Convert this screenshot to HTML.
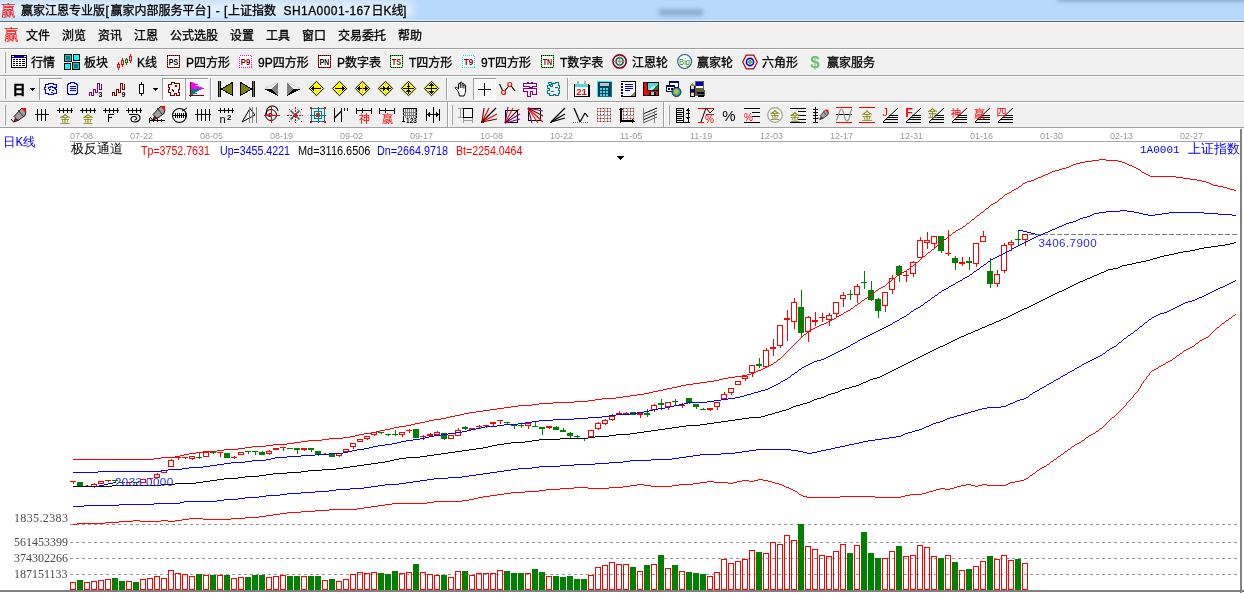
<!DOCTYPE html>
<html lang="zh-CN"><head><meta charset="utf-8"><title>赢家江恩专业版</title>
<style>
html,body{margin:0;padding:0;background:#fff;}
body{width:1244px;height:593px;overflow:hidden;position:relative;font-family:"Liberation Sans","Noto Sans CJK SC",sans-serif;font-size:12px;color:#000;line-height:1;}
.abs{position:absolute;}
.t{position:absolute;white-space:nowrap;line-height:16px;height:16px;}
.ui{font-family:"Liberation Sans","Noto Sans CJK SC",sans-serif;font-size:12px;-webkit-text-stroke:.3px;}
.song{font-family:"Liberation Mono","WenQuanYi Zen Hei",monospace;font-size:13px;}
.song b{font-weight:normal;font-size:11px;}
#title{left:0;top:0;width:1244px;height:20px;background:#b7d9fc;overflow:hidden;}
#bars{left:0;top:22px;width:1244px;height:106px;background:#f0f0f0;}
.hl{position:absolute;left:0;width:1244px;height:1px;}
.grip{position:absolute;width:1px;background:#a0a0a0;box-shadow:-1px 0 0 #fff;}
.sep{position:absolute;width:1px;background:#a0a0a0;box-shadow:1px 0 0 #fff;}
.ic{position:absolute;width:16px;height:16px;overflow:visible;}
.pressed{position:absolute;background:#f8f8f8;box-shadow:inset 1px 1px 0 #a0a0a0, inset -1px -1px 0 #fff;}
.dl{position:absolute;font-family:"Liberation Sans",sans-serif;font-size:9px;color:#9a9a9a;line-height:10px;white-space:nowrap;}
.hd{position:absolute;font-family:"Liberation Sans",sans-serif;font-size:12px;line-height:14px;white-space:nowrap;transform-origin:0 0;transform:scaleX(0.885);}
.vl{position:absolute;font-family:"Liberation Serif",serif;font-size:12px;line-height:12px;color:#4a4a4a;white-space:nowrap;}
</style></head>
<body>
<div class="abs" id="title"><div class="abs" style="left:-14px;top:1px;width:428px;height:17px;background:rgba(255,255,255,.62);filter:blur(5px);border-radius:8px"></div></div>
<div class="hl" style="top:20px;background:#d6eafe"></div><div class="hl" style="top:21px;background:#53667c"></div><div class="abs" style="left:659px;top:9px;width:44px;height:7px;background:#7f9cc2;filter:blur(2px);opacity:.75"></div><div class="abs" style="left:1058px;top:-6px;width:200px;height:7px;background:#6f8db5;filter:blur(2px);opacity:.8"></div><div class="t" style="left:1px;top:3px;color:#f00;font:14.5px/16px 'Liberation Sans','Noto Sans CJK SC',sans-serif">赢</div><span class="t ui" style="left:21px;top:3px;">赢家江恩专业版</span><span class="t ui" style="left:105.5px;top:3px;">[</span><span class="t ui" style="left:110.5px;top:3px;">赢家内部服务平台</span><span class="t ui" style="left:207.5px;top:3px;">]</span><span class="t ui" style="left:215.7px;top:3px;">-</span><span class="t ui" style="left:224px;top:3px;">[</span><span class="t ui" style="left:228px;top:3px;">上证指数</span><span class="t ui" style="left:283.6px;top:3px;letter-spacing:.42px;">SH1A0001-167</span><span class="t ui" style="left:371.6px;top:3px;">日K线</span><span class="t ui" style="left:403px;top:3px;">]</span>
<div class="abs" id="bars"></div>
<div class="hl" style="top:22px;background:#fff"></div><div class="hl" style="top:48px;background:#a0a0a0"></div><div class="hl" style="top:49px;background:#fff"></div><div class="hl" style="top:75px;background:#a0a0a0"></div><div class="hl" style="top:76px;background:#fff"></div><div class="hl" style="top:101px;background:#a0a0a0"></div><div class="hl" style="top:102px;background:#fff"></div><div class="hl" style="top:127px;background:#a0a0a0"></div>
<div class="t" style="left:4px;top:27px;color:#f00;font:14.5px/16px 'Liberation Sans','Noto Sans CJK SC',sans-serif">赢</div><div class="t ui" style="left:26px;top:28px">文件</div><div class="t ui" style="left:62px;top:28px">浏览</div><div class="t ui" style="left:98px;top:28px">资讯</div><div class="t ui" style="left:134px;top:28px">江恩</div><div class="t ui" style="left:170px;top:28px">公式选股</div><div class="t ui" style="left:230px;top:28px">设置</div><div class="t ui" style="left:266px;top:28px">工具</div><div class="t ui" style="left:302px;top:28px">窗口</div><div class="t ui" style="left:338px;top:28px">交易委托</div><div class="t ui" style="left:398px;top:28px">帮助</div>
<div class="grip" style="left:5px;top:52px;height:21px"></div><svg class="ic" style="left:11px;top:54px" viewBox="0 0 16 16" width="16" height="16" shape-rendering="crispEdges"><rect x="0" y="1" width="16" height="13" fill="#000"/><rect x="1" y="2" width="14" height="2" fill="#0000c0"/><rect x="1" y="4" width="14" height="9" fill="#fff"/><rect x="1" y="2" width="2" height="1" fill="#fff"/><rect x="13" y="2" width="2" height="1" fill="#fff"/><rect x="2" y="5" width="2" height="1" fill="#000"/><rect x="5" y="5" width="2" height="1" fill="#000"/><rect x="8" y="5" width="2" height="1" fill="#000"/><rect x="11" y="5" width="3" height="1" fill="#000"/><rect x="2" y="7" width="2" height="1" fill="#000"/><rect x="5" y="7" width="2" height="1" fill="#000"/><rect x="8" y="7" width="2" height="1" fill="#000"/><rect x="11" y="7" width="3" height="1" fill="#000"/><rect x="2" y="9" width="2" height="1" fill="#000"/><rect x="5" y="9" width="2" height="1" fill="#000"/><rect x="8" y="9" width="2" height="1" fill="#000"/><rect x="11" y="9" width="3" height="1" fill="#000"/><rect x="2" y="11" width="2" height="1" fill="#000"/><rect x="5" y="11" width="2" height="1" fill="#000"/><rect x="8" y="11" width="2" height="1" fill="#000"/><rect x="11" y="11" width="3" height="1" fill="#000"/></svg><div class="t ui" style="left:31px;top:55px">行情</div><svg class="ic" style="left:64px;top:54px" viewBox="0 0 16 16" width="16" height="16" shape-rendering="crispEdges"><rect x="0" y="0" width="8" height="8" fill="#000"/><rect x="1" y="1" width="6" height="6" fill="#00d0d0"/><rect x="2" y="2" width="4" height="4" fill="#008080"/><rect x="9" y="0" width="7" height="7" fill="#000"/><rect x="10" y="1" width="5" height="5" fill="#00ffff"/><rect x="0" y="9" width="7" height="7" fill="#000"/><rect x="1" y="10" width="5" height="5" fill="#00ffff"/><rect x="8" y="8" width="8" height="8" fill="#000"/><rect x="9" y="9" width="6" height="6" fill="#00d0d0"/><rect x="10" y="10" width="4" height="4" fill="#008080"/></svg><div class="t ui" style="left:84px;top:55px">板块</div><svg class="ic" style="left:117px;top:54px" viewBox="0 0 16 16" width="16" height="16" shape-rendering="crispEdges"><rect x="1" y="8" width="1" height="8" fill="#ff0000"/><rect x="0" y="10" width="3" height="4" fill="#ff0000"/><rect x="1" y="11" width="1" height="2" fill="#fff"/><rect x="5" y="4" width="1" height="9" fill="#ff0000"/><rect x="4" y="6" width="3" height="5" fill="#ff0000"/><rect x="5" y="7" width="1" height="3" fill="#fff"/><rect x="9" y="4" width="1" height="7" fill="#008000"/><rect x="8" y="5" width="3" height="4" fill="#008000"/><rect x="9" y="6" width="1" height="2" fill="#fff"/><rect x="13" y="0" width="1" height="9" fill="#ff0000"/><rect x="12" y="2" width="3" height="5" fill="#ff0000"/><rect x="13" y="3" width="1" height="3" fill="#fff"/></svg><div class="t ui" style="left:137px;top:55px">K线</div><svg class="ic" style="left:167px;top:54px" viewBox="0 0 16 16" width="16" height="16" shape-rendering="crispEdges"><rect x="0" y="1" width="13" height="13" fill="#fff"/><rect x="0.5" y="1.5" width="12" height="12" fill="none" stroke="#000"/><rect x="0.5" y="1.5" width="12" height="12" fill="none" stroke="#ff0000" stroke-dasharray="1 1"/><text x="6.5" y="11" fill="#000" font-size="9" font-family="'Liberation Sans','Noto Sans CJK SC',sans-serif" font-weight="bold" text-anchor="middle" textLength="9.500" lengthAdjust="spacingAndGlyphs" shape-rendering="geometricPrecision">PS</text></svg><div class="t ui" style="left:186px;top:55px">P四方形</div><svg class="ic" style="left:239px;top:54px" viewBox="0 0 16 16" width="16" height="16" shape-rendering="crispEdges"><rect x="0" y="1" width="13" height="13" fill="#fff"/><rect x="0.5" y="1.5" width="12" height="12" fill="none" stroke="#fff"/><rect x="0.5" y="1.5" width="12" height="12" fill="none" stroke="#ff00ff" stroke-dasharray="1 1"/><text x="6.5" y="11" fill="#800000" font-size="9" font-family="'Liberation Sans','Noto Sans CJK SC',sans-serif" font-weight="bold" text-anchor="middle" textLength="9.500" lengthAdjust="spacingAndGlyphs" shape-rendering="geometricPrecision">P9</text></svg><div class="t ui" style="left:258px;top:55px">9P四方形</div><svg class="ic" style="left:318px;top:54px" viewBox="0 0 16 16" width="16" height="16" shape-rendering="crispEdges"><rect x="0" y="1" width="13" height="13" fill="#fff"/><rect x="0.5" y="1.5" width="12" height="12" fill="none" stroke="#000"/><rect x="0.5" y="1.5" width="12" height="12" fill="none" stroke="#ff0000" stroke-dasharray="1 1"/><text x="6.5" y="11" fill="#000" font-size="9" font-family="'Liberation Sans','Noto Sans CJK SC',sans-serif" font-weight="bold" text-anchor="middle" textLength="9.500" lengthAdjust="spacingAndGlyphs" shape-rendering="geometricPrecision">PN</text></svg><div class="t ui" style="left:337px;top:55px">P数字表</div><svg class="ic" style="left:390px;top:54px" viewBox="0 0 16 16" width="16" height="16" shape-rendering="crispEdges"><rect x="0" y="1" width="13" height="13" fill="#fff"/><rect x="0.5" y="1.5" width="12" height="12" fill="none" stroke="#000"/><rect x="0.5" y="1.5" width="12" height="12" fill="none" stroke="#00e000" stroke-dasharray="1 1"/><text x="6.5" y="11" fill="#800000" font-size="9" font-family="'Liberation Sans','Noto Sans CJK SC',sans-serif" font-weight="bold" text-anchor="middle" textLength="9.500" lengthAdjust="spacingAndGlyphs" shape-rendering="geometricPrecision">TS</text></svg><div class="t ui" style="left:409px;top:55px">T四方形</div><svg class="ic" style="left:462px;top:54px" viewBox="0 0 16 16" width="16" height="16" shape-rendering="crispEdges"><rect x="0" y="1" width="13" height="13" fill="#fff"/><rect x="0.5" y="1.5" width="12" height="12" fill="none" stroke="#fff"/><rect x="0.5" y="1.5" width="12" height="12" fill="none" stroke="#00e0e0" stroke-dasharray="1 1"/><text x="6.5" y="11" fill="#800000" font-size="9" font-family="'Liberation Sans','Noto Sans CJK SC',sans-serif" font-weight="bold" text-anchor="middle" textLength="9.500" lengthAdjust="spacingAndGlyphs" shape-rendering="geometricPrecision">T9</text></svg><div class="t ui" style="left:481px;top:55px">9T四方形</div><svg class="ic" style="left:541px;top:54px" viewBox="0 0 16 16" width="16" height="16" shape-rendering="crispEdges"><rect x="0" y="1" width="13" height="13" fill="#fff"/><rect x="0.5" y="1.5" width="12" height="12" fill="none" stroke="#000"/><rect x="0.5" y="1.5" width="12" height="12" fill="none" stroke="#00e000" stroke-dasharray="1 1"/><text x="6.5" y="11" fill="#800000" font-size="9" font-family="'Liberation Sans','Noto Sans CJK SC',sans-serif" font-weight="bold" text-anchor="middle" textLength="9.500" lengthAdjust="spacingAndGlyphs" shape-rendering="geometricPrecision">TN</text></svg><div class="t ui" style="left:560px;top:55px">T数字表</div><svg class="ic" style="left:612px;top:54px" viewBox="0 0 16 16" width="16" height="16" shape-rendering="crispEdges"><g shape-rendering="geometricPrecision"><circle cx="7.6" cy="7.4" r="6.6" fill="#f4f4f4" stroke="#800020" stroke-width="1.7"/><circle cx="7.6" cy="7.4" r="3.6" fill="none" stroke="#006838" stroke-width="1.6"/><circle cx="7.6" cy="7.4" r="1.3" fill="#f08060"/><path d="M1 7.4h13.2M7.6 1v13" stroke="#909090" stroke-width=".8" fill="none"/></g></svg><div class="t ui" style="left:632px;top:55px">江恩轮</div><svg class="ic" style="left:677px;top:54px" viewBox="0 0 16 16" width="16" height="16" shape-rendering="crispEdges"><g shape-rendering="geometricPrecision"><circle cx="7.6" cy="7.5" r="7" fill="#fafafa" stroke="#1e5a8c" stroke-width="1.1"/></g><text x="7.6" y="10.6" fill="#209020" font-size="8.5" font-family="'Liberation Sans','Noto Sans CJK SC',sans-serif" font-weight="normal" text-anchor="middle" textLength="11" lengthAdjust="spacingAndGlyphs" shape-rendering="geometricPrecision">Big</text></svg><div class="t ui" style="left:697px;top:55px">赢家轮</div><svg class="ic" style="left:742px;top:54px" viewBox="0 0 16 16" width="16" height="16" shape-rendering="crispEdges"><g shape-rendering="geometricPrecision"><path d="M.7 8 4.3 1.2h7.4L15.3 8l-3.6 6.8H4.3z" fill="#f4f4f4" stroke="#b00010" stroke-width="1.2"/><circle cx="8" cy="8" r="3.6" fill="none" stroke="#0000c0" stroke-width="1.6"/><circle cx="8" cy="8" r="1.3" fill="none" stroke="#008000" stroke-width="1"/></g></svg><div class="t ui" style="left:762px;top:55px">六角形</div><svg class="ic" style="left:808px;top:54px" viewBox="0 0 16 16" width="16" height="16" shape-rendering="crispEdges"><text x="7" y="14" fill="#6cc06c" font-size="17" font-family="'Liberation Sans','Noto Sans CJK SC',sans-serif" font-weight="bold" text-anchor="middle" shape-rendering="geometricPrecision">$</text></svg><div class="t ui" style="left:827px;top:55px">赢家服务</div>
<div class="grip" style="left:5px;top:79px;height:20px"></div><div class="pressed" style="left:39px;top:78px;width:23px;height:22px"></div><div class="pressed" style="left:162px;top:78px;width:23px;height:22px"></div><div class="pressed" style="left:185px;top:78px;width:23px;height:22px"></div><div class="pressed" style="left:473px;top:78px;width:23px;height:22px"></div><div class="sep" style="left:210px;top:78px;height:22px"></div><div class="sep" style="left:446px;top:78px;height:22px"></div><div class="sep" style="left:567px;top:78px;height:22px"></div><svg class="ic" style="left:11px;top:81px" viewBox="0 0 16 16" width="16" height="16" shape-rendering="crispEdges"><text x="1.5" y="13" fill="#000" font-size="13" font-family="'Liberation Sans','Noto Sans CJK SC',sans-serif" font-weight="bold" stroke="#000" stroke-width=".500" shape-rendering="geometricPrecision">日</text></svg><svg class="ic" style="left:27px;top:81px" viewBox="0 0 16 16" width="16" height="16" shape-rendering="crispEdges"><path d="M3 7h5v1h-1v1h-1v1h-1v-1h-1v-1h-1z" fill="#000" /></svg><svg class="ic" style="left:43px;top:81px" viewBox="0 0 16 16" width="16" height="16" shape-rendering="crispEdges"><path d="M2.5 3.5h3v-1h5v1h3v3h-1v2h1v4h-3v1h-5v-1h-3v-4h-1v-2h1zM4.5 7.5h1v-1h2v-1h2v1h2v1M5.5 9.5h1v-1h1M9.5 8.5v1h1M7.5 11.5h2" fill="none" stroke="#0000ff" stroke-width="1" /></svg><svg class="ic" style="left:65px;top:81px" viewBox="0 0 16 16" width="16" height="16" shape-rendering="crispEdges"><path d="M3.5 2.5h2v-1h4v1h2v1h1v9h-1v1h-8v-1h-1v-9h1zM5.5 5.5h5M5.5 7.5h5M5.5 9.5h5" fill="none" stroke="#0000ff" stroke-width="1" /><rect x="5" y="5" width="5" height="1" fill="#0000ff"/><rect x="5" y="7" width="5" height="1" fill="#0000ff"/><rect x="5" y="9" width="5" height="1" fill="#0000ff"/></svg><svg class="ic" style="left:88px;top:81px" viewBox="0 0 16 16" width="16" height="16" shape-rendering="crispEdges"><path d="M1.5 15v-4h2v3h2v-6h2v3h2v-9h2v6h2v-5" fill="none" stroke="#800080" stroke-width="1" /><text x="10.5" y="16" fill="#000" font-size="7" font-family="'Liberation Sans','Noto Sans CJK SC',sans-serif" font-weight="bold" shape-rendering="geometricPrecision">3</text></svg><svg class="ic" style="left:111px;top:81px" viewBox="0 0 16 16" width="16" height="16" shape-rendering="crispEdges"><path d="M1.5 15v-4h2v3h2v-6h2v3h2v-9h2v6h2v-5" fill="none" stroke="#800000" stroke-width="1" /><text x="10.5" y="16" fill="#000" font-size="7" font-family="'Liberation Sans','Noto Sans CJK SC',sans-serif" font-weight="bold" shape-rendering="geometricPrecision">9</text></svg><svg class="ic" style="left:134px;top:81px" viewBox="0 0 16 16" width="16" height="16" shape-rendering="crispEdges"><rect x="7" y="1" width="1" height="14" fill="#000"/><rect x="5" y="3" width="5" height="10" fill="#000"/><rect x="6" y="4" width="3" height="8" fill="#fff"/></svg><svg class="ic" style="left:150px;top:81px" viewBox="0 0 16 16" width="16" height="16" shape-rendering="crispEdges"><path d="M3 7h5v1h-1v1h-1v1h-1v-1h-1v-1h-1z" fill="#000" /></svg><svg class="ic" style="left:166px;top:81px" viewBox="0 0 16 16" width="16" height="16" shape-rendering="crispEdges"><path d="M2.5 3.5h3v-2h3v1h5v6h-1v3h1v3h-3v-2h-2v2h-4v-3h-2v-3h1v-2h-1zM6.5 7.5v2h1v1" fill="none" stroke="#800000" stroke-width="1" /><rect x="9" y="4" width="2" height="2" fill="#800000"/></svg><svg class="ic" style="left:189px;top:81px" viewBox="0 0 16 16" width="16" height="16" shape-rendering="crispEdges"><path d="M2 1h2v1h2v1h3v1h-2v1h3v1h3v1h2v1H2z" fill="#ff00ff" /><path d="M2 8h10v1h-2v1h-2v1h-2v1h2v1h-4v1h-2z" fill="#008080" /><rect x="1" y="1" width="1" height="15" fill="#800000"/><rect x="0" y="14" width="15" height="1" fill="#800000"/></svg><svg class="ic" style="left:217px;top:81px" viewBox="0 0 16 16" width="16" height="16" shape-rendering="crispEdges"><rect x="1" y="0" width="3" height="16" fill="#000"/><rect x="2" y="0" width="1" height="16" fill="#808000"/><path d="M15.5 1.5v13L4.5 8z" fill="#808000" stroke="#000"/></svg><svg class="ic" style="left:240px;top:81px" viewBox="0 0 16 16" width="16" height="16" shape-rendering="crispEdges"><rect x="12" y="0" width="3" height="16" fill="#000"/><rect x="13" y="0" width="1" height="16" fill="#808000"/><path d="M.5 1.5v13L11.5 8z" fill="#808000" stroke="#000"/></svg><svg class="ic" style="left:263px;top:81px" viewBox="0 0 16 16" width="16" height="16" shape-rendering="crispEdges"><path d="M15 1v14L9 8z" fill="#808080" /><path d="M1 8h8l6 7z" fill="#000" /><path d="M1.5 7.5 15 1" fill="none" stroke="#d8d8d8" stroke-width="1" /></svg><svg class="ic" style="left:286px;top:81px" viewBox="0 0 16 16" width="16" height="16" shape-rendering="crispEdges"><path d="M1 1v14l6-7z" fill="#808080" /><path d="M15 8H7l-6 7z" fill="#000" /><path d="M14.5 7.5 1 1" fill="none" stroke="#d8d8d8" stroke-width="1" /></svg><svg class="ic" style="left:309px;top:81px" viewBox="0 0 16 16" width="16" height="16" shape-rendering="crispEdges"><path d="M7.5 .3 14.700 7.500 7.500 14.700 .300 7.500z" fill="#ffff00" stroke="#000" stroke-width="1" shape-rendering="geometricPrecision"/><rect x="4" y="7" width="8" height="1" fill="#000"/><path d="M2 7.500l3-3v6z" fill="#000" /></svg><svg class="ic" style="left:332px;top:81px" viewBox="0 0 16 16" width="16" height="16" shape-rendering="crispEdges"><path d="M7.5 .3 14.700 7.500 7.500 14.700 .300 7.500z" fill="#ffff00" stroke="#000" stroke-width="1" shape-rendering="geometricPrecision"/><rect x="3" y="7" width="8" height="1" fill="#000"/><path d="M13 7.500l-3-3v6z" fill="#000" /></svg><svg class="ic" style="left:355px;top:81px" viewBox="0 0 16 16" width="16" height="16" shape-rendering="crispEdges"><path d="M7.5 .3 14.700 7.500 7.500 14.700 .300 7.500z" fill="#ffff00" stroke="#000" stroke-width="1" shape-rendering="geometricPrecision"/><rect x="4" y="7" width="7" height="1" fill="#000"/><path d="M2 7.500l3-3v6z" fill="#000" /><path d="M13 7.500l-3-3v6z" fill="#000" /><rect x="7" y="2" width="1" height="11" fill="#c8c8a0"/></svg><svg class="ic" style="left:378px;top:81px" viewBox="0 0 16 16" width="16" height="16" shape-rendering="crispEdges"><path d="M7.5 .3 14.700 7.500 7.500 14.700 .300 7.500z" fill="#ffff00" stroke="#000" stroke-width="1" shape-rendering="geometricPrecision"/><rect x="2" y="7" width="11" height="1" fill="#000"/><path d="M7.500 7.500l-3-3v6z" fill="#000" /><path d="M7.500 7.500l3-3v6z" fill="#000" /><rect x="7" y="2" width="1" height="3" fill="#c8c8a0"/><rect x="7" y="10" width="1" height="3" fill="#c8c8a0"/></svg><svg class="ic" style="left:401px;top:81px" viewBox="0 0 16 16" width="16" height="16" shape-rendering="crispEdges"><path d="M7.5 .3 14.700 7.500 7.500 14.700 .300 7.500z" fill="#ffff00" stroke="#000" stroke-width="1" shape-rendering="geometricPrecision"/><rect x="2" y="7" width="11" height="1" fill="#000"/><rect x="7" y="2" width="1" height="11" fill="#000"/><path d="M7.500 7.500l-2.500-3h5z" fill="#000" /><path d="M7.500 7.500l-2.500 3h5z" fill="#000" /></svg><svg class="ic" style="left:424px;top:81px" viewBox="0 0 16 16" width="16" height="16" shape-rendering="crispEdges"><path d="M7.5 .3 14.700 7.500 7.500 14.700 .300 7.500z" fill="#ffff00" stroke="#000" stroke-width="1" shape-rendering="geometricPrecision"/><rect x="2" y="7" width="11" height="1" fill="#000"/><rect x="7" y="3" width="1" height="9" fill="#000"/><path d="M7.500 1.500l-3 3.500h6z" fill="#000" /><path d="M7.500 13.500l-3-3.500h6z" fill="#000" /></svg><svg class="ic" style="left:453px;top:81px" viewBox="0 0 16 16" width="16" height="16" shape-rendering="crispEdges"><g shape-rendering="geometricPrecision"><path d="M4.5 9.5 2.5 7.5c-1-1 .3-2 1.2-1.2L5.5 8V3.2c0-1.3 1.8-1.3 1.8 0V2c0-1.3 1.8-1.3 1.8 0v1.2c0-1.2 1.8-1.2 1.8 0v1.3c0-1.1 1.7-1.1 1.7 0V10c0 2-1 3-1.6 5H6.5C6 13 5.3 10.5 4.500 9.5z" fill="#fff" stroke="#000" stroke-width="1"/><path d="M7.3 3v4M9.1 3v4M10.9 4v3.500" stroke="#000" fill="none" stroke-width=".9"/></g></svg><svg class="ic" style="left:477px;top:81px" viewBox="0 0 16 16" width="16" height="16" shape-rendering="crispEdges"><rect x="7" y="2" width="1" height="13" fill="#000"/><rect x="1" y="8" width="13" height="1" fill="#000"/></svg><svg class="ic" style="left:499px;top:81px" viewBox="0 0 16 16" width="16" height="16" shape-rendering="crispEdges"><g shape-rendering="geometricPrecision"><path d="M.5 3 4.500 11.500 11 3.500 16 10" stroke="#000" fill="none" stroke-width="1.100"/><circle cx="4.500" cy="11.500" r="2" fill="#fff" stroke="#f00" stroke-width="1.200"/><circle cx="10.800" cy="3.500" r="2" fill="#fff" stroke="#f00" stroke-width="1.200"/></g></svg><svg class="ic" style="left:522px;top:81px" viewBox="0 0 16 16" width="16" height="16" shape-rendering="crispEdges"><path d="M1.5 2.500h4v-1h1v1h3v-1h1v1h4v3h-4v1h-3v-1h-6zM1.500 7.500h13v6h-4v-3h-2v5h-3v-5h-4z" fill="none" stroke="#800080" stroke-width="1.2" /></svg><svg class="ic" style="left:545px;top:81px" viewBox="0 0 16 16" width="16" height="16" shape-rendering="crispEdges"><path d="M3.500 1.500h3v2h-1v2h2v-3h3v-1h3v3h1v3h-1v2h1v3h-1v2h-3v-1h-2v1h-4v-2h-2v-3h2v-2h-2v-3h2zM5.500 10.500h3M9.500 6.500h3" fill="none" stroke="#008080" stroke-width="1.2" /></svg><svg class="ic" style="left:574px;top:81px" viewBox="0 0 16 16" width="16" height="16" shape-rendering="crispEdges"><rect x="0" y="3" width="15" height="13" fill="#000"/><rect x="1" y="4" width="13" height="11" fill="#fff"/><rect x="1" y="3" width="13" height="3" fill="#40e0e0"/><rect x="3" y="0" width="2" height="4" fill="#b0b0b0"/><rect x="10" y="0" width="2" height="4" fill="#b0b0b0"/><rect x="14" y="4" width="2" height="12" fill="#000"/><rect x="1" y="15" width="15" height="1" fill="#000"/><text x="7.5" y="14" fill="#ff0000" font-size="9.5" font-family="'Liberation Sans','Noto Sans CJK SC',sans-serif" font-weight="bold" text-anchor="middle" shape-rendering="geometricPrecision">21</text></svg><svg class="ic" style="left:597px;top:81px" viewBox="0 0 16 16" width="16" height="16" shape-rendering="crispEdges"><rect x="0" y="0" width="15" height="16" fill="#008080"/><rect x="1" y="1" width="13" height="14" fill="#004060"/><rect x="3" y="2" width="9" height="3" fill="#c0c0c0"/><rect x="3" y="7" width="2" height="2" fill="#40e0e0"/><rect x="6" y="7" width="2" height="2" fill="#40e0e0"/><rect x="9" y="7" width="2" height="2" fill="#40e0e0"/><rect x="3" y="10" width="2" height="2" fill="#40e0e0"/><rect x="6" y="10" width="2" height="2" fill="#40e0e0"/><rect x="9" y="10" width="2" height="2" fill="#40e0e0"/><rect x="3" y="13" width="2" height="2" fill="#40e0e0"/><rect x="6" y="13" width="2" height="2" fill="#40e0e0"/><rect x="9" y="13" width="2" height="2" fill="#40e0e0"/><rect x="0" y="0" width="15" height="1" fill="#40e0e0"/><rect x="0" y="0" width="1" height="16" fill="#40e0e0"/></svg><svg class="ic" style="left:620px;top:81px" viewBox="0 0 16 16" width="16" height="16" shape-rendering="crispEdges"><rect x="1" y="0" width="15" height="16" fill="#000"/><rect x="3" y="1" width="12" height="14" fill="#fff"/><rect x="5" y="3" width="8" height="1" fill="#0000ff"/><rect x="5" y="5" width="8" height="1" fill="#0000ff"/><rect x="5" y="7" width="8" height="1" fill="#0000ff"/><rect x="5" y="9" width="5" height="1" fill="#0000ff"/><path d="M10 15l5-5v5z" fill="#808080" /><rect x="1" y="1" width="2" height="1" fill="#fff"/><rect x="1" y="4" width="2" height="1" fill="#fff"/><rect x="1" y="7" width="2" height="1" fill="#fff"/><rect x="1" y="10" width="2" height="1" fill="#fff"/><rect x="1" y="13" width="2" height="1" fill="#fff"/></svg><svg class="ic" style="left:643px;top:81px" viewBox="0 0 16 16" width="16" height="16" shape-rendering="crispEdges"><rect x="0" y="1" width="16" height="14" fill="#000"/><rect x="1" y="2" width="3" height="12" fill="#ff0000"/><rect x="5" y="2" width="10" height="7" fill="#40e0e0"/><path d="M5 9l5-5 5 5z" fill="#b0e8ff" /><path d="M9 9l6-5v5z" fill="#208020" /><rect x="4" y="10" width="11" height="4" fill="#ff0000"/><rect x="6" y="11" width="7" height="3" fill="#000"/><rect x="8" y="11" width="3" height="3" fill="#c0c0c0"/></svg><svg class="ic" style="left:666px;top:81px" viewBox="0 0 16 16" width="16" height="16" shape-rendering="crispEdges"><rect x="3" y="0" width="10" height="7" fill="#000080"/><rect x="4" y="2" width="8" height="4" fill="#fff"/><rect x="0" y="4" width="9" height="7" fill="#000080"/><rect x="1" y="6" width="7" height="4" fill="#fff"/><rect x="2" y="7" width="2" height="2" fill="#000"/><rect x="5" y="7" width="2" height="2" fill="#000"/><g shape-rendering="geometricPrecision"><circle cx="10.500" cy="11" r="4.500" fill="#20a0c0" stroke="#202020"/><path d="M8 9l3-1 2 2-2 4-3-2z" fill="#c8c020"/></g></svg><svg class="ic" style="left:689px;top:81px" viewBox="0 0 16 16" width="16" height="16" shape-rendering="crispEdges"><rect x="6" y="0" width="9" height="9" fill="#606040"/><rect x="7" y="1" width="7" height="6" fill="#0000c0"/><rect x="7" y="5" width="7" height="2" fill="#fff"/><rect x="5" y="9" width="11" height="6" fill="#606040"/><rect x="8" y="11" width="7" height="2" fill="#000"/><rect x="9" y="14" width="6" height="2" fill="#000"/><rect x="1" y="5" width="5" height="10" fill="#e0e0c0"/><rect x="1" y="8" width="5" height="3" fill="#0000c0"/><rect x="1" y="11" width="5" height="1" fill="#ff0000"/><rect x="1" y="5" width="1" height="10" fill="#000"/><rect x="5" y="5" width="1" height="10" fill="#000"/><rect x="1" y="15" width="5" height="1" fill="#000"/><path d="M1 5l2-3 3 3z" fill="#909070" /></svg>
<div class="grip" style="left:5px;top:105px;height:20px"></div><div class="sep" style="left:447px;top:102px;height:25px"></div><div class="grip" style="left:452px;top:105px;height:20px"></div><div class="sep" style="left:663px;top:102px;height:25px"></div><div class="grip" style="left:669px;top:105px;height:20px"></div><svg class="ic" style="left:11px;top:107px" viewBox="0 0 16 16" width="16" height="16" shape-rendering="crispEdges"><g shape-rendering="geometricPrecision"><path d="M11 1l4 3.500-1 4-7 5-4-4z" fill="#a0a0a0" stroke="#000" stroke-width=".900"/><path d="M10.500 1.200 15 1l-.300 5z" fill="#f00"/><path d="M7 3l5 6M4 11.500l3 2-4 1.500z" fill="#f00" stroke="#000" stroke-width=".700"/><path d="M0 12l2.500 3 1.500-1" fill="none" stroke="#000"/></g></svg><svg class="ic" style="left:34px;top:107px" viewBox="0 0 16 16" width="16" height="16" shape-rendering="crispEdges"><rect x="1" y="7" width="14" height="1" fill="#000"/><rect x="3" y="2" width="1" height="12" fill="#000"/><rect x="7" y="2" width="1" height="12" fill="#000"/><rect x="11" y="2" width="1" height="12" fill="#000"/></svg><svg class="ic" style="left:57px;top:107px" viewBox="0 0 16 16" width="16" height="16" shape-rendering="crispEdges"><rect x="0" y="3" width="16" height="1" fill="#000"/><rect x="2" y="1" width="1" height="5" fill="#000"/><rect x="6" y="1" width="1" height="5" fill="#000"/><rect x="10" y="1" width="1" height="5" fill="#000"/><rect x="14" y="1" width="1" height="5" fill="#000"/><text x="8" y="15.5" fill="#808000" font-size="10.5" font-family="'Liberation Sans','Noto Sans CJK SC',sans-serif" font-weight="normal" text-anchor="middle" shape-rendering="geometricPrecision">金</text></svg><svg class="ic" style="left:80px;top:107px" viewBox="0 0 16 16" width="16" height="16" shape-rendering="crispEdges"><rect x="0" y="3" width="16" height="1" fill="#000"/><rect x="2" y="1" width="1" height="5" fill="#000"/><rect x="6" y="1" width="1" height="5" fill="#000"/><rect x="10" y="1" width="1" height="5" fill="#000"/><rect x="14" y="1" width="1" height="5" fill="#000"/><text x="8" y="15.5" fill="#808000" font-size="10.5" font-family="'Liberation Sans','Noto Sans CJK SC',sans-serif" font-weight="normal" text-anchor="middle" shape-rendering="geometricPrecision">金</text></svg><svg class="ic" style="left:103px;top:107px" viewBox="0 0 16 16" width="16" height="16" shape-rendering="crispEdges"><rect x="0" y="3" width="16" height="1" fill="#000"/><rect x="2" y="1" width="1" height="5" fill="#000"/><rect x="6" y="1" width="1" height="5" fill="#000"/><rect x="10" y="1" width="1" height="5" fill="#000"/><rect x="14" y="1" width="1" height="5" fill="#000"/><rect x="5" y="7" width="1" height="8" fill="#000"/><rect x="5" y="7" width="6" height="1" fill="#000"/><rect x="5" y="10" width="4" height="1" fill="#000"/></svg><svg class="ic" style="left:126px;top:107px" viewBox="0 0 16 16" width="16" height="16" shape-rendering="crispEdges"><rect x="0" y="3" width="16" height="1" fill="#000"/><rect x="2" y="1" width="1" height="5" fill="#000"/><rect x="6" y="1" width="1" height="5" fill="#000"/><rect x="10" y="1" width="1" height="5" fill="#000"/><rect x="14" y="1" width="1" height="5" fill="#000"/><g shape-rendering="geometricPrecision"><path d="M3 7.500h7c3 0 4 2 4 3.500 0 2-2 4-5 4s-4-1.500-4-3c0-1.500 1.500-2.500 3-2.500 1.500 0 2.500 1 2.500 2s-1 1.500-2 1.500" fill="none" stroke="#000" stroke-width="1.100"/></g></svg><svg class="ic" style="left:149px;top:107px" viewBox="0 0 16 16" width="16" height="16" shape-rendering="crispEdges"><g transform="translate(1,-2)"><g shape-rendering="geometricPrecision"><path d="M11 1l4 3.500-1 4-7 5-4-4z" fill="#a0a0a0" stroke="#000" stroke-width=".900"/><path d="M10.500 1.200 15 1l-.300 5z" fill="#f00"/><path d="M7 3l5 6M4 11.500l3 2-4 1.500z" fill="#f00" stroke="#000" stroke-width=".700"/><path d="M0 12l2.500 3 1.500-1" fill="none" stroke="#000"/></g></g><rect x="0" y="13" width="16" height="1" fill="#000"/><rect x="0" y="11" width="1" height="5" fill="#000"/><rect x="4" y="12" width="1" height="3" fill="#000"/><rect x="8" y="12" width="1" height="3" fill="#000"/><rect x="12" y="12" width="1" height="3" fill="#000"/></svg><svg class="ic" style="left:172px;top:107px" viewBox="0 0 16 16" width="16" height="16" shape-rendering="crispEdges"><g shape-rendering="geometricPrecision"><circle cx="7.500" cy="8.500" r="7" fill="none" stroke="#000" stroke-width="1.100"/><path d="M10 4l5-3" stroke="#000" fill="none"/></g><rect x="1" y="8" width="14" height="1" fill="#000"/><rect x="3" y="6" width="1" height="5" fill="#000"/><rect x="5" y="6" width="1" height="5" fill="#000"/><rect x="7" y="6" width="1" height="5" fill="#000"/><rect x="9" y="6" width="1" height="5" fill="#000"/><rect x="11" y="6" width="1" height="5" fill="#000"/><rect x="13" y="6" width="1" height="5" fill="#000"/></svg><svg class="ic" style="left:195px;top:107px" viewBox="0 0 16 16" width="16" height="16" shape-rendering="crispEdges"><rect x="0" y="7" width="16" height="1" fill="#000"/><rect x="2" y="2" width="1" height="12" fill="#000"/><rect x="6" y="2" width="1" height="12" fill="#000"/><rect x="10" y="2" width="1" height="12" fill="#000"/><rect x="14" y="2" width="1" height="12" fill="#000"/></svg><svg class="ic" style="left:218px;top:107px" viewBox="0 0 16 16" width="16" height="16" shape-rendering="crispEdges"><rect x="0" y="3" width="16" height="1" fill="#000"/><rect x="2" y="1" width="1" height="5" fill="#000"/><rect x="6" y="1" width="1" height="5" fill="#000"/><rect x="10" y="1" width="1" height="5" fill="#000"/><rect x="14" y="1" width="1" height="5" fill="#000"/><text x="1.5" y="15.5" fill="#000" font-size="11" font-family="'Liberation Sans','Noto Sans CJK SC',sans-serif" font-weight="normal" shape-rendering="geometricPrecision">n</text><text x="9" y="12.5" fill="#000" font-size="8" font-family="'Liberation Sans','Noto Sans CJK SC',sans-serif" font-weight="bold" shape-rendering="geometricPrecision">2</text></svg><svg class="ic" style="left:241px;top:107px" viewBox="0 0 16 16" width="16" height="16" shape-rendering="crispEdges"><g shape-rendering="geometricPrecision"><path d="M1 15 9 1.500l5 6.500z" fill="none" stroke="#000" stroke-width="1"/></g><rect x="8" y="0" width="1" height="16" fill="#808080"/><rect x="11" y="0" width="1" height="16" fill="#808080"/><rect x="15" y="0" width="1" height="16" fill="#808080"/></svg><svg class="ic" style="left:264px;top:107px" viewBox="0 0 16 16" width="16" height="16" shape-rendering="crispEdges"><g shape-rendering="geometricPrecision"><path d="M8 8a1.500 1.500 0 1 0-1.500 1.500A4 4 0 0 1 2.500 5.500 5.500 5.500 0 0 1 14 4" fill="none" stroke="#000" stroke-width="1.100"/><circle cx="7" cy="8" r="5.500" fill="none" stroke="#000" stroke-width="1"/></g><rect x="0" y="8" width="16" height="1" fill="#ff0000"/><rect x="7" y="0" width="1" height="16" fill="#ff0000"/></svg><svg class="ic" style="left:287px;top:107px" viewBox="0 0 16 16" width="16" height="16" shape-rendering="crispEdges"><g shape-rendering="geometricPrecision"><circle cx="8" cy="8" r="6" fill="none" stroke="#60a0a0" stroke-width=".800" stroke-dasharray="1.500 1.500"/><path d="M3.500 3.500l9 9M12.500 3.500l-9 9" stroke="#008080" stroke-width="1.500"/></g><path d="M0 8.500h16M8.500 0v16" stroke="#f00" stroke-dasharray="2 1" fill="none"/><rect x="2" y="2" width="1" height="1" fill="#ff0000"/><rect x="14" y="2" width="1" height="1" fill="#ff0000"/><rect x="2" y="14" width="1" height="1" fill="#ff0000"/><rect x="14" y="14" width="1" height="1" fill="#ff0000"/><rect x="5" y="5" width="1" height="1" fill="#ff0000"/><rect x="11" y="5" width="1" height="1" fill="#ff0000"/><rect x="5" y="11" width="1" height="1" fill="#ff0000"/><rect x="11" y="11" width="1" height="1" fill="#ff0000"/><rect x="7" y="7" width="3" height="3" fill="#ff0000"/></svg><svg class="ic" style="left:310px;top:107px" viewBox="0 0 16 16" width="16" height="16" shape-rendering="crispEdges"><rect x="1" y="1" width="14" height="14" fill="#008080"/><rect x="2" y="2" width="12" height="12" fill="#f0f0f0"/><rect x="4" y="4" width="8" height="8" fill="#008080"/><rect x="5" y="5" width="6" height="6" fill="#f0f0f0"/><rect x="6" y="6" width="4" height="4" fill="#c04040"/><rect x="0" y="8" width="16" height="1" fill="#008080"/><rect x="8" y="0" width="1" height="16" fill="#008080"/><rect x="0" y="0" width="2" height="2" fill="#ff0000"/><rect x="14" y="0" width="2" height="2" fill="#ff0000"/><rect x="0" y="14" width="2" height="2" fill="#ff0000"/><rect x="14" y="14" width="2" height="2" fill="#ff0000"/><rect x="7" y="7" width="2" height="2" fill="#ff0000"/></svg><svg class="ic" style="left:333px;top:107px" viewBox="0 0 16 16" width="16" height="16" shape-rendering="crispEdges"><rect x="1" y="1" width="1" height="14" fill="#000"/><rect x="8" y="1" width="1" height="14" fill="#000"/><path d="M1.500 11 8.500 4" fill="none" stroke="#000" stroke-width="1.3" shape-rendering="geometricPrecision"/><rect x="11" y="1" width="1" height="3" fill="#000"/><rect x="14" y="1" width="1" height="3" fill="#000"/></svg><svg class="ic" style="left:356px;top:107px" viewBox="0 0 16 16" width="16" height="16" shape-rendering="crispEdges"><rect x="0" y="3" width="16" height="1" fill="#000"/><rect x="0" y="1" width="1" height="6" fill="#000"/><rect x="15" y="1" width="1" height="6" fill="#000"/><rect x="6" y="1" width="1" height="5" fill="#000"/><text x="8.5" y="15.8" fill="#ff0000" font-size="11" font-family="'Liberation Sans','Noto Sans CJK SC',sans-serif" font-weight="normal" text-anchor="middle" shape-rendering="geometricPrecision">神</text></svg><svg class="ic" style="left:379px;top:107px" viewBox="0 0 16 16" width="16" height="16" shape-rendering="crispEdges"><rect x="0" y="3" width="16" height="1" fill="#000"/><rect x="0" y="1" width="1" height="6" fill="#000"/><rect x="15" y="1" width="1" height="6" fill="#000"/><rect x="6" y="1" width="1" height="5" fill="#000"/><text x="8.5" y="15.8" fill="#ff0000" font-size="11" font-family="'Liberation Sans','Noto Sans CJK SC',sans-serif" font-weight="normal" text-anchor="middle" shape-rendering="geometricPrecision">赢</text></svg><svg class="ic" style="left:402px;top:107px" viewBox="0 0 16 16" width="16" height="16" shape-rendering="crispEdges"><rect x="1" y="1" width="14" height="1" fill="#000"/><rect x="1" y="1" width="1" height="14" fill="#000"/><rect x="14" y="1" width="1" height="10" fill="#000"/><rect x="3" y="2" width="1" height="9" fill="#808080"/><rect x="5" y="2" width="1" height="9" fill="#808080"/><rect x="7" y="2" width="1" height="9" fill="#808080"/><rect x="9" y="2" width="1" height="9" fill="#808080"/><rect x="11" y="2" width="1" height="9" fill="#808080"/><rect x="13" y="2" width="1" height="9" fill="#808080"/><rect x="1" y="5" width="14" height="1" fill="#808080"/><rect x="1" y="8" width="14" height="1" fill="#808080"/><rect x="0" y="14" width="3" height="1" fill="#000"/><text x="9.5" y="16" fill="#000" font-size="6.5" font-family="'Liberation Sans','Noto Sans CJK SC',sans-serif" font-weight="bold" text-anchor="middle" shape-rendering="geometricPrecision">123</text></svg><svg class="ic" style="left:425px;top:107px" viewBox="0 0 16 16" width="16" height="16" shape-rendering="crispEdges"><rect x="1" y="2" width="1" height="12" fill="#000"/><rect x="14" y="2" width="1" height="12" fill="#000"/><rect x="8" y="0" width="1" height="16" fill="#000"/><rect x="2" y="7" width="12" height="1" fill="#000"/><path d="M2 7.500l3-2.500v5z" fill="#000" /><path d="M14 7.500l-3-2.500v5z" fill="#000" /></svg><svg class="ic" style="left:458px;top:107px" viewBox="0 0 16 16" width="16" height="16" shape-rendering="crispEdges"><rect x="5" y="1" width="10" height="10" fill="#000"/><rect x="6" y="2" width="8" height="8" fill="#f4f4f4"/><rect x="0" y="1" width="5" height="1" fill="#a0a0a0"/><rect x="0" y="10" width="5" height="1" fill="#a0a0a0"/><rect x="2" y="1" width="1" height="10" fill="#a0a0a0"/><rect x="5" y="11" width="1" height="5" fill="#a0a0a0"/><rect x="14" y="11" width="1" height="5" fill="#a0a0a0"/><rect x="5" y="13" width="10" height="1" fill="#a0a0a0"/></svg><svg class="ic" style="left:481px;top:107px" viewBox="0 0 16 16" width="16" height="16" shape-rendering="crispEdges"><g shape-rendering="geometricPrecision"><path d="M1 15 3 1" stroke="#800000" stroke-width="1.2" fill="none"/><path d="M1 15 8 1" stroke="#ff0000" stroke-width="1.2" fill="none"/><path d="M1 15 15 1" stroke="#000" stroke-width="1.2" fill="none"/><path d="M1 15 16 7" stroke="#ff0000" stroke-width="1.2" fill="none"/><path d="M1 15 16 12" stroke="#800000" stroke-width="1.2" fill="none"/></g><rect x="0" y="14" width="3" height="2" fill="#800000"/></svg><svg class="ic" style="left:504px;top:107px" viewBox="0 0 16 16" width="16" height="16" shape-rendering="crispEdges"><rect x="1" y="3" width="13" height="13" fill="#000"/><rect x="2" y="4" width="11" height="11" fill="#f4f4f4"/><g shape-rendering="geometricPrecision"><path d="M1 16 4 0" stroke="#800080" stroke-width="1.1" fill="none"/><path d="M1 16 9 1" stroke="#ff0000" stroke-width="1.1" fill="none"/><path d="M1 16 15 2" stroke="#ff0000" stroke-width="1.1" fill="none"/><path d="M1 16 16 7" stroke="#800080" stroke-width="1.1" fill="none"/><path d="M1 16 16 12" stroke="#800080" stroke-width="1.1" fill="none"/></g><g shape-rendering="geometricPrecision"><path d="M1 16 14 3" stroke="#000" stroke-width="1" fill="none"/></g></svg><svg class="ic" style="left:527px;top:107px" viewBox="0 0 16 16" width="16" height="16" shape-rendering="crispEdges"><rect x="1" y="1" width="13" height="13" fill="#000"/><rect x="2" y="2" width="11" height="11" fill="#f4f4f4"/><g shape-rendering="geometricPrecision"><path d="M1 1 5 16" stroke="#800080" stroke-width="1.1" fill="none"/><path d="M1 1 11 16" stroke="#ff0000" stroke-width="1.1" fill="none"/><path d="M1 1 16 15" stroke="#ff0000" stroke-width="1.1" fill="none"/><path d="M1 1 16 9" stroke="#800000" stroke-width="1.1" fill="none"/><path d="M1 1 16 4" stroke="#800080" stroke-width="1.1" fill="none"/></g></svg><svg class="ic" style="left:550px;top:107px" viewBox="0 0 16 16" width="16" height="16" shape-rendering="crispEdges"><g shape-rendering="geometricPrecision"><path d="M1 15 15 1" stroke="#000" stroke-width="1.3" fill="none"/><path d="M1 15 15 7" stroke="#000" stroke-width="1.3" fill="none"/><path d="M1 15 15 11" stroke="#000" stroke-width="1.3" fill="none"/></g><path d="M0 16l2-3 2 2z" fill="#000" /></svg><svg class="ic" style="left:573px;top:107px" viewBox="0 0 16 16" width="16" height="16" shape-rendering="crispEdges"><g shape-rendering="geometricPrecision"><path d="M1 1 7 15" stroke="#000" stroke-width="1.2" fill="none"/><path d="M7 15 12 6" stroke="#000" stroke-width="1.2" fill="none"/><path d="M12 6 15 10" stroke="#000" stroke-width="1.2" fill="none"/></g><path d="M0 15.500h16" stroke="#808080" stroke-dasharray="1 1" fill="none"/></svg><svg class="ic" style="left:596px;top:107px" viewBox="0 0 16 16" width="16" height="16" shape-rendering="crispEdges"><rect x="1" y="1" width="14" height="14" fill="#fbfbfb"/><rect x="1" y="1" width="1" height="14" fill="#a8a8a8"/><rect x="1" y="1" width="14" height="1" fill="#a8a8a8"/><rect x="4.25" y="1" width="1" height="14" fill="#a8a8a8"/><rect x="1" y="4.25" width="14" height="1" fill="#a8a8a8"/><rect x="7.5" y="1" width="1" height="14" fill="#a8a8a8"/><rect x="1" y="7.5" width="14" height="1" fill="#a8a8a8"/><rect x="10.75" y="1" width="1" height="14" fill="#a8a8a8"/><rect x="1" y="10.75" width="14" height="1" fill="#a8a8a8"/><rect x="14" y="1" width="1" height="14" fill="#a8a8a8"/><rect x="1" y="14" width="14" height="1" fill="#a8a8a8"/><rect x="4" y="1" width="1" height="1" fill="#ff0000"/><rect x="4" y="4" width="1" height="1" fill="#ff0000"/><rect x="4" y="7" width="1" height="1" fill="#ff0000"/><rect x="4" y="11" width="1" height="1" fill="#ff0000"/><rect x="4" y="14" width="1" height="1" fill="#ff0000"/><rect x="7" y="1" width="1" height="1" fill="#ff0000"/><rect x="7" y="4" width="1" height="1" fill="#ff0000"/><rect x="7" y="7" width="1" height="1" fill="#ff0000"/><rect x="7" y="11" width="1" height="1" fill="#ff0000"/><rect x="7" y="14" width="1" height="1" fill="#ff0000"/><rect x="11" y="1" width="1" height="1" fill="#ff0000"/><rect x="11" y="4" width="1" height="1" fill="#ff0000"/><rect x="11" y="7" width="1" height="1" fill="#ff0000"/><rect x="11" y="11" width="1" height="1" fill="#ff0000"/><rect x="11" y="14" width="1" height="1" fill="#ff0000"/><rect x="1" y="4" width="1" height="1" fill="#ff0000"/><rect x="14" y="4" width="1" height="1" fill="#ff0000"/><rect x="1" y="7" width="1" height="1" fill="#ff0000"/><rect x="14" y="7" width="1" height="1" fill="#ff0000"/><rect x="1" y="11" width="1" height="1" fill="#ff0000"/><rect x="14" y="11" width="1" height="1" fill="#ff0000"/><rect x="1" y="1" width="1" height="1" fill="#606060"/><rect x="14" y="1" width="1" height="1" fill="#606060"/><rect x="1" y="14" width="1" height="1" fill="#606060"/><rect x="14" y="14" width="1" height="1" fill="#606060"/></svg><svg class="ic" style="left:619px;top:107px" viewBox="0 0 16 16" width="16" height="16" shape-rendering="crispEdges"><rect x="1" y="1" width="14" height="14" fill="#fbfbfb"/><rect x="1" y="1" width="1" height="14" fill="#a8a8a8"/><rect x="1" y="1" width="14" height="1" fill="#a8a8a8"/><rect x="4.25" y="1" width="1" height="14" fill="#a8a8a8"/><rect x="1" y="4.25" width="14" height="1" fill="#a8a8a8"/><rect x="7.5" y="1" width="1" height="14" fill="#a8a8a8"/><rect x="1" y="7.5" width="14" height="1" fill="#a8a8a8"/><rect x="10.75" y="1" width="1" height="14" fill="#a8a8a8"/><rect x="1" y="10.75" width="14" height="1" fill="#a8a8a8"/><rect x="14" y="1" width="1" height="14" fill="#a8a8a8"/><rect x="1" y="14" width="14" height="1" fill="#a8a8a8"/><rect x="4" y="1" width="1" height="1" fill="#ff0000"/><rect x="4" y="4" width="1" height="1" fill="#ff0000"/><rect x="4" y="7" width="1" height="1" fill="#ff0000"/><rect x="4" y="11" width="1" height="1" fill="#ff0000"/><rect x="4" y="14" width="1" height="1" fill="#ff0000"/><rect x="7" y="1" width="1" height="1" fill="#ff0000"/><rect x="7" y="4" width="1" height="1" fill="#ff0000"/><rect x="7" y="7" width="1" height="1" fill="#ff0000"/><rect x="7" y="11" width="1" height="1" fill="#ff0000"/><rect x="7" y="14" width="1" height="1" fill="#ff0000"/><rect x="11" y="1" width="1" height="1" fill="#ff0000"/><rect x="11" y="4" width="1" height="1" fill="#ff0000"/><rect x="11" y="7" width="1" height="1" fill="#ff0000"/><rect x="11" y="11" width="1" height="1" fill="#ff0000"/><rect x="11" y="14" width="1" height="1" fill="#ff0000"/><rect x="1" y="4" width="1" height="1" fill="#ff0000"/><rect x="14" y="4" width="1" height="1" fill="#ff0000"/><rect x="1" y="7" width="1" height="1" fill="#ff0000"/><rect x="14" y="7" width="1" height="1" fill="#ff0000"/><rect x="1" y="11" width="1" height="1" fill="#ff0000"/><rect x="14" y="11" width="1" height="1" fill="#ff0000"/><rect x="1" y="1" width="1" height="1" fill="#606060"/><rect x="14" y="1" width="1" height="1" fill="#606060"/><rect x="1" y="14" width="1" height="1" fill="#606060"/><rect x="14" y="14" width="1" height="1" fill="#606060"/><rect x="1" y="1" width="1" height="15" fill="#000"/><rect x="1" y="14" width="15" height="1" fill="#000"/><rect x="2" y="13" width="13" height="1" fill="#000"/><rect x="2" y="1" width="1" height="13" fill="#000"/><path d="M0 3l2-3 2 3z" fill="#000" /><path d="M13 12l3 2.500-3 1.500z" fill="#000" /></svg><svg class="ic" style="left:642px;top:107px" viewBox="0 0 16 16" width="16" height="16" shape-rendering="crispEdges"><g shape-rendering="geometricPrecision"><path d="M1 7 15 1" stroke="#000" stroke-width="1" fill="none"/><path d="M1 10 15 4" stroke="#606060" stroke-width="1" fill="none"/><path d="M1 13 15 7" stroke="#000" stroke-width="1" fill="none"/><path d="M1 16 15 10" stroke="#606060" stroke-width="1" fill="none"/></g><rect x="1" y="1" width="1" height="15" fill="#808080"/><rect x="12" y="4" width="1" height="12" fill="#808080"/></svg><svg class="ic" style="left:675px;top:107px" viewBox="0 0 16 16" width="16" height="16" shape-rendering="crispEdges"><rect x="1" y="1" width="1" height="14" fill="#000"/><rect x="1" y="15" width="14" height="1" fill="#000"/><rect x="1" y="1" width="8" height="1" fill="#000"/><rect x="1" y="3" width="6" height="1" fill="#000"/><rect x="1" y="5" width="8" height="1" fill="#000"/><rect x="1" y="7" width="6" height="1" fill="#000"/><rect x="1" y="9" width="8" height="1" fill="#000"/><rect x="1" y="11" width="6" height="1" fill="#000"/><rect x="1" y="13" width="8" height="1" fill="#000"/><rect x="8" y="1" width="1" height="14" fill="#000"/><path d="M11 4l2-3 2 3z" fill="#000" /><path d="M11 10l2 3 2-3z" fill="#000" /><rect x="11" y="6" width="4" height="1" fill="#000"/><rect x="13" y="1" width="1" height="14" fill="#000"/></svg><svg class="ic" style="left:698px;top:107px" viewBox="0 0 16 16" width="16" height="16" shape-rendering="crispEdges"><rect x="0" y="1" width="16" height="1" fill="#ff0000"/><rect x="8" y="7" width="8" height="1" fill="#ff0000"/><rect x="0" y="15" width="6" height="1" fill="#ff0000"/><g shape-rendering="geometricPrecision"><path d="M3 15 8 1" stroke="#000" stroke-width="1" fill="none"/><path d="M8 1 12 6" stroke="#000" stroke-width="1" fill="none"/><path d="M12 6 16 2" stroke="#000" stroke-width="1" fill="none"/></g><text x="11.5" y="15.5" fill="#ff0000" font-size="10" font-family="'Liberation Sans','Noto Sans CJK SC',sans-serif" font-weight="normal" text-anchor="middle" shape-rendering="geometricPrecision">%</text></svg><svg class="ic" style="left:721px;top:107px" viewBox="0 0 16 16" width="16" height="16" shape-rendering="crispEdges"><text x="8" y="13.5" fill="#000" font-size="15" font-family="'Liberation Sans','Noto Sans CJK SC',sans-serif" font-weight="normal" text-anchor="middle" shape-rendering="geometricPrecision">%</text></svg><svg class="ic" style="left:744px;top:107px" viewBox="0 0 16 16" width="16" height="16" shape-rendering="crispEdges"><rect x="0" y="1" width="16" height="1" fill="#000"/><rect x="8" y="5" width="8" height="1" fill="#000"/><rect x="8" y="9" width="8" height="1" fill="#000"/><rect x="0" y="15" width="16" height="1" fill="#000"/><text x="4.5" y="14" fill="#ff0000" font-size="10" font-family="'Liberation Sans','Noto Sans CJK SC',sans-serif" font-weight="normal" text-anchor="middle" shape-rendering="geometricPrecision">%</text></svg><svg class="ic" style="left:767px;top:107px" viewBox="0 0 16 16" width="16" height="16" shape-rendering="crispEdges"><g shape-rendering="geometricPrecision"><circle cx="8" cy="8" r="7.300" fill="#f8f8f8" stroke="#a0a0a0" stroke-width="1.200"/></g><text x="8" y="12" fill="#808000" font-size="10" font-family="'Liberation Sans','Noto Sans CJK SC',sans-serif" font-weight="normal" text-anchor="middle" shape-rendering="geometricPrecision">金</text></svg><svg class="ic" style="left:790px;top:107px" viewBox="0 0 16 16" width="16" height="16" shape-rendering="crispEdges"><rect x="0" y="1" width="16" height="1" fill="#000"/><rect x="8" y="4" width="8" height="1" fill="#000"/><rect x="8" y="8" width="8" height="1" fill="#000"/><rect x="8" y="12" width="8" height="1" fill="#000"/><rect x="0" y="15" width="16" height="1" fill="#000"/><text x="5" y="14" fill="#808000" font-size="10" font-family="'Liberation Sans','Noto Sans CJK SC',sans-serif" font-weight="normal" text-anchor="middle" shape-rendering="geometricPrecision">金</text></svg><svg class="ic" style="left:813px;top:107px" viewBox="0 0 16 16" width="16" height="16" shape-rendering="crispEdges"><rect x="2" y="0" width="1" height="16" fill="#000"/><rect x="0" y="2" width="5" height="1" fill="#000"/><rect x="0" y="5" width="5" height="1" fill="#000"/><rect x="0" y="8" width="5" height="1" fill="#000"/><rect x="0" y="11" width="5" height="1" fill="#000"/><rect x="0" y="15" width="5" height="1" fill="#000"/><g transform="translate(5,2) scale(.700)"><g shape-rendering="geometricPrecision"><path d="M11 1l4 3.500-1 4-7 5-4-4z" fill="#a0a0a0" stroke="#000" stroke-width=".900"/><path d="M10.500 1.200 15 1l-.300 5z" fill="#f00"/><path d="M7 3l5 6M4 11.500l3 2-4 1.500z" fill="#f00" stroke="#000" stroke-width=".700"/><path d="M0 12l2.500 3 1.500-1" fill="none" stroke="#000"/></g></g></svg><svg class="ic" style="left:836px;top:107px" viewBox="0 0 16 16" width="16" height="16" shape-rendering="crispEdges"><rect x="0" y="0" width="16" height="1" fill="#ff0000"/><rect x="0" y="15" width="16" height="1" fill="#ff0000"/><rect x="0" y="7" width="16" height="1" fill="#000"/><g shape-rendering="geometricPrecision"><path d="M0 13C2 13 3 2 5.500 2S8 14 11 14s3-11 5-12" fill="none" stroke="#909090" stroke-width="1.200"/></g></svg><svg class="ic" style="left:859px;top:107px" viewBox="0 0 16 16" width="16" height="16" shape-rendering="crispEdges"><rect x="0" y="0" width="16" height="1" fill="#ff0000"/><rect x="0" y="15" width="16" height="1" fill="#ff0000"/><text x="8" y="12.5" fill="#808000" font-size="11" font-family="'Liberation Sans','Noto Sans CJK SC',sans-serif" font-weight="normal" text-anchor="middle" shape-rendering="geometricPrecision">金</text></svg><svg class="ic" style="left:882px;top:107px" viewBox="0 0 16 16" width="16" height="16" shape-rendering="crispEdges"><g shape-rendering="geometricPrecision"><path d="M1 15 16 1" stroke="#000" stroke-width="1" fill="none"/></g><rect x="5" y="10" width="11" height="1" fill="#000"/><rect x="3" y="12" width="13" height="1" fill="#000"/><rect x="1" y="15" width="15" height="1" fill="#000"/><rect x="7" y="8" width="9" height="1" fill="#000"/><text x="3" y="9" fill="#ff0000" font-size="11.5" font-family="'Liberation Sans','Noto Sans CJK SC',sans-serif" font-weight="normal" text-anchor="middle" shape-rendering="geometricPrecision">J</text></svg><svg class="ic" style="left:905px;top:107px" viewBox="0 0 16 16" width="16" height="16" shape-rendering="crispEdges"><g shape-rendering="geometricPrecision"><path d="M1 15 16 1" stroke="#000" stroke-width="1" fill="none"/></g><rect x="5" y="10" width="11" height="1" fill="#000"/><rect x="3" y="12" width="13" height="1" fill="#000"/><rect x="1" y="15" width="15" height="1" fill="#000"/><rect x="7" y="8" width="9" height="1" fill="#000"/><text x="4" y="10" fill="#ff0000" font-size="12.5" font-family="'Liberation Sans','Noto Sans CJK SC',sans-serif" font-weight="bold" text-anchor="middle" shape-rendering="geometricPrecision">F</text></svg><svg class="ic" style="left:928px;top:107px" viewBox="0 0 16 16" width="16" height="16" shape-rendering="crispEdges"><g shape-rendering="geometricPrecision"><path d="M1 15 16 1" stroke="#000" stroke-width="1" fill="none"/></g><rect x="5" y="10" width="11" height="1" fill="#000"/><rect x="3" y="12" width="13" height="1" fill="#000"/><rect x="1" y="15" width="15" height="1" fill="#000"/><rect x="7" y="8" width="9" height="1" fill="#000"/><text x="4.5" y="9.5" fill="#808000" font-size="10" font-family="'Liberation Sans','Noto Sans CJK SC',sans-serif" font-weight="normal" text-anchor="middle" shape-rendering="geometricPrecision">金</text></svg><svg class="ic" style="left:951px;top:107px" viewBox="0 0 16 16" width="16" height="16" shape-rendering="crispEdges"><g shape-rendering="geometricPrecision"><path d="M1 15 16 1" stroke="#000" stroke-width="1" fill="none"/></g><rect x="5" y="10" width="11" height="1" fill="#000"/><rect x="3" y="12" width="13" height="1" fill="#000"/><rect x="1" y="15" width="15" height="1" fill="#000"/><rect x="7" y="8" width="9" height="1" fill="#000"/><text x="5" y="10" fill="#ff0000" font-size="10.5" font-family="'Liberation Sans','Noto Sans CJK SC',sans-serif" font-weight="normal" text-anchor="middle" shape-rendering="geometricPrecision">神</text></svg><svg class="ic" style="left:974px;top:107px" viewBox="0 0 16 16" width="16" height="16" shape-rendering="crispEdges"><g shape-rendering="geometricPrecision"><path d="M1 15 16 1" stroke="#000" stroke-width="1" fill="none"/></g><rect x="5" y="10" width="11" height="1" fill="#000"/><rect x="3" y="12" width="13" height="1" fill="#000"/><rect x="1" y="15" width="15" height="1" fill="#000"/><rect x="7" y="8" width="9" height="1" fill="#000"/><text x="5.5" y="10.5" fill="#ff0000" font-size="11" font-family="'Liberation Sans','Noto Sans CJK SC',sans-serif" font-weight="normal" text-anchor="middle" shape-rendering="geometricPrecision">赢</text></svg><svg class="ic" style="left:997px;top:107px" viewBox="0 0 16 16" width="16" height="16" shape-rendering="crispEdges"><g shape-rendering="geometricPrecision"><path d="M1 15 16 1" stroke="#000" stroke-width="1" fill="none"/></g><rect x="5" y="10" width="11" height="1" fill="#000"/><rect x="3" y="12" width="13" height="1" fill="#000"/><rect x="1" y="15" width="15" height="1" fill="#000"/><rect x="7" y="8" width="9" height="1" fill="#000"/><text x="4.5" y="9" fill="#ff0000" font-size="10" font-family="'Liberation Sans','Noto Sans CJK SC',sans-serif" font-weight="normal" text-anchor="middle" shape-rendering="geometricPrecision">四</text></svg>
<div class="t song" style="left:3px;top:135px;color:#00f;font-size:12.5px">日K线</div><div class="dl" style="left:70px;top:130.5px">07-08</div><div class="dl" style="left:130px;top:130.5px">07-22</div><div class="dl" style="left:200px;top:130.5px">08-05</div><div class="dl" style="left:270px;top:130.5px">08-19</div><div class="dl" style="left:340px;top:130.5px">09-02</div><div class="dl" style="left:410px;top:130.5px">09-17</div><div class="dl" style="left:480px;top:130.5px">10-08</div><div class="dl" style="left:550px;top:130.5px">10-22</div><div class="dl" style="left:620px;top:130.5px">11-05</div><div class="dl" style="left:690px;top:130.5px">11-19</div><div class="dl" style="left:760px;top:130.5px">12-03</div><div class="dl" style="left:830px;top:130.5px">12-17</div><div class="dl" style="left:900px;top:130.5px">12-31</div><div class="dl" style="left:970px;top:130.5px">01-16</div><div class="dl" style="left:1040px;top:130.5px">01-30</div><div class="dl" style="left:1110px;top:130.5px">02-13</div><div class="dl" style="left:1180px;top:130.5px">02-27</div>
<div class="abs" style="left:70px;top:141px;width:1170px;height:1px;background:#a8a8a8"></div><div class="t song" style="left:71px;top:142px;">极反通道</div><div class="hd" style="left:141px;top:144px;color:#f00;">Tp=3752.7631</div><div class="hd" style="left:219px;top:144px;color:#00f;left:219.5px;">Up=3455.4221</div><div class="hd" style="left:298px;top:144px;color:#000;transform:scaleX(.91);">Md=3116.6506</div><div class="hd" style="left:377px;top:144px;color:#00f;transform:scaleX(.898);">Dn=2664.9718</div><div class="hd" style="left:456px;top:144px;color:#f00;">Bt=2254.0464</div><div class="t song" style="left:1140px;top:142px;color:#00f;"><b>1A0001</b></div><div class="t song" style="left:1188px;top:142px;color:#00f;">上证指数</div>
<div class="vl" style="left:14px;top:512px;letter-spacing:.37px;">1835.2383</div><div class="vl" style="left:14px;top:536px;">561453399</div><div class="vl" style="left:14px;top:552px;">374302266</div><div class="vl" style="left:14px;top:568px;">187151133</div>
<svg class="abs" style="left:0;top:0" width="1244" height="593" viewBox="0 0 1244 593" shape-rendering="crispEdges">
<path d="M616 156h8l-4 4z" fill="#000"/>
<line x1="70" y1="524.5" x2="1238" y2="524.5" stroke="#949494" stroke-width="1" stroke-dasharray="3 3"/>
<line x1="70" y1="542.5" x2="1238" y2="542.5" stroke="#949494" stroke-width="1" stroke-dasharray="3 3"/>
<line x1="70" y1="558.5" x2="1238" y2="558.5" stroke="#949494" stroke-width="1" stroke-dasharray="3 3"/>
<line x1="70" y1="574.5" x2="1238" y2="574.5" stroke="#949494" stroke-width="1" stroke-dasharray="3 3"/>
<path d="M77 580h6v10h-6zM112 578h6v12h-6zM119 581h6v9h-6zM133 582h6v8h-6zM196 574h6v16h-6zM210 575h6v15h-6zM224 575h6v15h-6zM245 577h6v13h-6zM252 575h6v15h-6zM259 575h6v15h-6zM287 576h6v14h-6zM294 576h6v14h-6zM308 576h6v14h-6zM315 576h6v14h-6zM329 579h6v11h-6zM378 573h6v17h-6zM385 574h6v16h-6zM392 571h6v19h-6zM413 564h6v26h-6zM441 575h6v15h-6zM462 571h6v19h-6zM504 571h6v19h-6zM511 573h6v17h-6zM518 573h6v17h-6zM532 569h6v21h-6zM539 572h6v18h-6zM553 576h6v14h-6zM560 577h6v13h-6zM567 576h6v14h-6zM574 579h6v11h-6zM581 579h6v11h-6zM630 567h6v23h-6zM644 565h6v25h-6zM658 555h6v35h-6zM672 565h6v25h-6zM686 572h6v18h-6zM693 573h6v17h-6zM700 574h6v16h-6zM756 552h6v38h-6zM798 524h6v66h-6zM847 553h6v37h-6zM861 532h6v58h-6zM868 553h6v37h-6zM875 558h6v32h-6zM896 546h6v44h-6zM938 558h6v32h-6zM952 562h6v28h-6zM966 569h6v21h-6zM987 556h6v34h-6zM1015 559h6v31h-6z" fill="#008000"/>
<path d="M70.5 582.5h5v7h-5zM84.5 582.5h5v7h-5zM91.5 581.5h5v8h-5zM98.5 580.5h5v9h-5zM105.5 579.5h5v10h-5zM126.5 581.5h5v8h-5zM140.5 579.5h5v10h-5zM147.5 578.5h5v11h-5zM154.5 576.5h5v13h-5zM161.5 578.5h5v11h-5zM168.5 570.5h5v19h-5zM175.5 573.5h5v16h-5zM182.5 574.5h5v15h-5zM189.5 576.5h5v13h-5zM203.5 575.5h5v14h-5zM217.5 575.5h5v14h-5zM231.5 578.5h5v11h-5zM238.5 577.5h5v12h-5zM266.5 577.5h5v12h-5zM273.5 576.5h5v13h-5zM280.5 575.5h5v14h-5zM301.5 576.5h5v13h-5zM322.5 580.5h5v9h-5zM336.5 581.5h5v8h-5zM343.5 579.5h5v10h-5zM350.5 574.5h5v15h-5zM357.5 572.5h5v17h-5zM364.5 573.5h5v16h-5zM371.5 572.5h5v17h-5zM399.5 573.5h5v16h-5zM406.5 572.5h5v17h-5zM420.5 572.5h5v17h-5zM427.5 574.5h5v15h-5zM434.5 575.5h5v14h-5zM448.5 577.5h5v12h-5zM455.5 571.5h5v18h-5zM469.5 575.5h5v14h-5zM476.5 573.5h5v16h-5zM483.5 573.5h5v16h-5zM490.5 573.5h5v16h-5zM497.5 570.5h5v19h-5zM525.5 573.5h5v16h-5zM546.5 576.5h5v13h-5zM588.5 575.5h5v14h-5zM595.5 567.5h5v22h-5zM602.5 565.5h5v24h-5zM609.5 562.5h5v27h-5zM616.5 564.5h5v25h-5zM623.5 564.5h5v25h-5zM637.5 571.5h5v18h-5zM651.5 564.5h5v25h-5zM665.5 568.5h5v21h-5zM679.5 571.5h5v18h-5zM707.5 576.5h5v13h-5zM714.5 572.5h5v17h-5zM721.5 559.5h5v30h-5zM728.5 563.5h5v26h-5zM735.5 561.5h5v28h-5zM742.5 559.5h5v30h-5zM749.5 550.5h5v39h-5zM763.5 553.5h5v36h-5zM770.5 542.5h5v47h-5zM777.5 544.5h5v45h-5zM784.5 535.5h5v54h-5zM791.5 540.5h5v49h-5zM805.5 546.5h5v43h-5zM812.5 549.5h5v40h-5zM819.5 555.5h5v34h-5zM826.5 556.5h5v33h-5zM833.5 551.5h5v38h-5zM840.5 544.5h5v45h-5zM854.5 545.5h5v44h-5zM882.5 558.5h5v31h-5zM889.5 551.5h5v38h-5zM903.5 556.5h5v33h-5zM910.5 555.5h5v34h-5zM917.5 545.5h5v44h-5zM924.5 547.5h5v42h-5zM931.5 556.5h5v33h-5zM945.5 555.5h5v34h-5zM959.5 570.5h5v19h-5zM973.5 566.5h5v23h-5zM980.5 561.5h5v28h-5zM994.5 559.5h5v30h-5zM1001.5 555.5h5v34h-5zM1008.5 560.5h5v29h-5zM1022.5 563.5h5v26h-5z" fill="none" stroke="#ff0000" stroke-width="1"/>
<path d="M80 482h1v4h-1zM77 482h6v4h-6zM115 480h1v3h-1zM112 480h6v1h-6zM122 481h1v3h-1zM119 482h6v1h-6zM136 482h1v2h-1zM133 482h6v1h-6zM199 453h1v6h-1zM196 457h6v1h-6zM213 452h1v2h-1zM210 452h6v1h-6zM227 453h1v5h-1zM224 453h6v5h-6zM248 451h1v3h-1zM245 451h6v1h-6zM255 451h1v4h-1zM252 451h6v1h-6zM262 451h1v4h-1zM259 452h6v3h-6zM290 448h1v1h-1zM287 448h6v1h-6zM297 448h1v6h-1zM294 448h6v2h-6zM311 448h1v4h-1zM308 448h6v2h-6zM318 451h1v5h-1zM315 451h6v3h-6zM332 454h1v3h-1zM329 454h6v3h-6zM381 432h1v2h-1zM378 432h6v1h-6zM388 434h1v2h-1zM385 434h6v1h-6zM395 430h1v6h-1zM392 434h6v1h-6zM416 429h1v9h-1zM413 429h6v9h-6zM444 433h1v7h-1zM441 433h6v6h-6zM465 426h1v4h-1zM462 427h6v2h-6zM507 422h1v2h-1zM504 422h6v1h-6zM514 424h1v5h-1zM511 424h6v2h-6zM521 424h1v4h-1zM518 425h6v1h-6zM535 422h1v5h-1zM532 426h6v1h-6zM542 427h1v8h-1zM539 427h6v2h-6zM556 426h1v4h-1zM553 427h6v3h-6zM563 428h1v4h-1zM560 430h6v2h-6zM570 432h1v6h-1zM567 433h6v3h-6zM577 435h1v3h-1zM574 436h6v1h-6zM584 438h1v3h-1zM581 438h6v1h-6zM633 412h1v3h-1zM630 412h6v3h-6zM647 409h1v8h-1zM644 413h6v2h-6zM661 399h1v11h-1zM658 403h6v2h-6zM675 399h1v6h-1zM672 401h6v1h-6zM689 398h1v6h-1zM686 398h6v5h-6zM696 404h1v5h-1zM693 404h6v3h-6zM703 408h1v2h-1zM700 409h6v1h-6zM759 358h1v10h-1zM756 364h6v2h-6zM801 290h1v47h-1zM798 307h6v26h-6zM850 290h1v10h-1zM847 294h6v1h-6zM864 271h1v18h-1zM861 282h6v1h-6zM871 281h1v20h-1zM868 290h6v10h-6zM878 298h1v20h-1zM875 299h6v12h-6zM899 265h1v17h-1zM896 266h6v9h-6zM941 236h1v17h-1zM938 236h6v15h-6zM955 256h1v14h-1zM952 258h6v5h-6zM969 257h1v13h-1zM966 261h6v2h-6zM990 258h1v30h-1zM987 271h6v13h-6zM1018 230h1v15h-1zM1015 239h6v1h-6z" fill="#008000"/>
<path d="M73 481h1v3h-1zM70 481h6v1h-6zM86 485h2v1h-2zM94 483h1v5h-1zM91 484h6v1h-6zM91 486h6v1h-6zM91 484h1v3h-1zM96 484h1v3h-1zM101 481h1v3h-1zM98 481h6v1h-6zM98 483h6v1h-6zM98 481h1v3h-1zM103 481h1v3h-1zM108 480h1v2h-1zM105 480h6v1h-6zM129 482h1v2h-1zM126 482h6v1h-6zM143 479h1v4h-1zM140 479h6v1h-6zM140 482h6v1h-6zM140 479h1v4h-1zM145 479h1v4h-1zM150 478h1v2h-1zM147 478h6v1h-6zM157 473h1v5h-1zM154 474h6v1h-6zM154 477h6v1h-6zM154 474h1v4h-1zM159 474h1v4h-1zM164 470h1v3h-1zM161 470h6v1h-6zM161 472h6v1h-6zM161 470h1v3h-1zM166 470h1v3h-1zM171 459h1v8h-1zM168 460h6v1h-6zM168 466h6v1h-6zM168 460h1v7h-1zM173 460h1v7h-1zM178 456h1v4h-1zM175 457h6v1h-6zM185 457h1v2h-1zM182 457h6v1h-6zM192 456h1v4h-1zM189 456h6v1h-6zM189 458h6v1h-6zM189 456h1v3h-1zM194 456h1v3h-1zM206 452h1v5h-1zM203 452h6v1h-6zM203 456h6v1h-6zM203 452h1v5h-1zM208 452h1v5h-1zM220 452h1v5h-1zM217 452h6v1h-6zM234 456h1v3h-1zM231 457h6v1h-6zM241 452h1v3h-1zM238 452h6v1h-6zM238 454h6v1h-6zM238 452h1v3h-1zM243 452h1v3h-1zM269 450h1v5h-1zM266 451h6v1h-6zM266 453h6v1h-6zM266 451h1v3h-1zM271 451h1v3h-1zM276 448h1v2h-1zM273 448h6v2h-6zM283 447h1v4h-1zM280 447h6v1h-6zM304 448h1v3h-1zM301 448h6v2h-6zM324 453h2v1h-2zM339 453h1v4h-1zM336 453h6v1h-6zM336 455h6v1h-6zM336 453h1v3h-1zM341 453h1v3h-1zM346 449h1v3h-1zM343 449h6v1h-6zM343 451h6v1h-6zM343 449h1v3h-1zM348 449h1v3h-1zM353 443h1v6h-1zM350 443h6v1h-6zM350 446h6v1h-6zM350 443h1v4h-1zM355 443h1v4h-1zM360 439h1v3h-1zM357 439h6v1h-6zM357 441h6v1h-6zM357 439h1v3h-1zM362 439h1v3h-1zM367 436h1v4h-1zM364 436h6v1h-6zM364 438h6v1h-6zM364 436h1v3h-1zM369 436h1v3h-1zM374 432h1v4h-1zM371 432h6v1h-6zM371 434h6v1h-6zM371 432h1v3h-1zM376 432h1v3h-1zM402 432h1v5h-1zM399 432h6v1h-6zM399 434h6v1h-6zM399 432h1v3h-1zM404 432h1v3h-1zM409 429h1v4h-1zM406 430h6v1h-6zM423 435h1v5h-1zM420 436h6v1h-6zM430 433h1v4h-1zM427 434h6v2h-6zM437 431h1v5h-1zM434 432h6v1h-6zM434 434h6v1h-6zM434 432h1v3h-1zM439 432h1v3h-1zM451 435h1v4h-1zM448 435h6v1h-6zM448 438h6v1h-6zM448 435h1v4h-1zM453 435h1v4h-1zM458 428h1v8h-1zM455 430h6v1h-6zM455 435h6v1h-6zM455 430h1v6h-1zM460 430h1v6h-1zM472 428h1v2h-1zM469 428h6v2h-6zM479 425h1v3h-1zM476 426h6v1h-6zM486 425h1v3h-1zM483 425h6v1h-6zM493 422h1v4h-1zM490 422h6v2h-6zM500 420h1v4h-1zM497 420h6v1h-6zM528 423h1v6h-1zM525 423h6v1h-6zM525 425h6v1h-6zM525 423h1v3h-1zM530 423h1v3h-1zM549 426h1v3h-1zM546 426h6v2h-6zM591 430h1v7h-1zM588 430h6v1h-6zM588 436h6v1h-6zM588 430h1v7h-1zM593 430h1v7h-1zM598 422h1v8h-1zM595 423h6v1h-6zM595 428h6v1h-6zM595 423h1v6h-1zM600 423h1v6h-1zM605 419h1v6h-1zM602 420h6v1h-6zM602 423h6v1h-6zM602 420h1v4h-1zM607 420h1v4h-1zM612 414h1v7h-1zM609 416h6v1h-6zM609 419h6v1h-6zM609 416h1v4h-1zM614 416h1v4h-1zM619 411h1v3h-1zM616 413h6v1h-6zM626 412h1v2h-1zM623 413h6v1h-6zM640 413h1v5h-1zM637 413h6v2h-6zM654 404h1v8h-1zM651 405h6v1h-6zM651 409h6v1h-6zM651 405h1v5h-1zM656 405h1v5h-1zM668 402h1v8h-1zM665 402h6v1h-6zM665 406h6v1h-6zM665 402h1v5h-1zM670 402h1v5h-1zM682 403h1v5h-1zM679 405h6v1h-6zM710 408h1v3h-1zM707 408h6v2h-6zM717 402h1v8h-1zM714 402h6v1h-6zM714 406h6v1h-6zM714 402h1v5h-1zM719 402h1v5h-1zM724 392h1v7h-1zM721 394h6v1h-6zM721 398h6v1h-6zM721 394h1v5h-1zM726 394h1v5h-1zM731 388h1v7h-1zM728 388h6v1h-6zM728 392h6v1h-6zM728 388h1v5h-1zM733 388h1v5h-1zM738 381h1v4h-1zM735 381h6v1h-6zM735 384h6v1h-6zM735 381h1v4h-1zM740 381h1v4h-1zM745 376h1v5h-1zM742 376h6v1h-6zM742 378h6v1h-6zM742 376h1v3h-1zM747 376h1v3h-1zM752 365h1v12h-1zM749 365h6v1h-6zM749 372h6v1h-6zM749 365h1v8h-1zM754 365h1v8h-1zM766 348h1v20h-1zM763 350h6v1h-6zM763 366h6v1h-6zM763 350h1v17h-1zM768 350h1v17h-1zM773 339h1v17h-1zM770 347h6v2h-6zM780 325h1v23h-1zM777 325h6v1h-6zM777 345h6v1h-6zM777 325h1v21h-1zM782 325h1v21h-1zM787 310h1v31h-1zM784 318h6v2h-6zM794 298h1v31h-1zM791 302h6v1h-6zM791 321h6v1h-6zM791 302h1v20h-1zM796 302h1v20h-1zM808 316h1v26h-1zM805 317h6v1h-6zM805 331h6v1h-6zM805 317h1v15h-1zM810 317h1v15h-1zM815 312h1v14h-1zM812 320h6v2h-6zM822 313h1v9h-1zM819 317h6v1h-6zM829 313h1v13h-1zM826 315h6v1h-6zM826 319h6v1h-6zM826 315h1v5h-1zM831 315h1v5h-1zM836 302h1v15h-1zM833 302h6v1h-6zM833 313h6v1h-6zM833 302h1v12h-1zM838 302h1v12h-1zM843 292h1v15h-1zM840 295h6v1h-6zM840 298h6v1h-6zM840 295h1v4h-1zM845 295h1v4h-1zM857 284h1v19h-1zM854 286h6v1h-6zM854 294h6v1h-6zM854 286h1v9h-1zM859 286h1v9h-1zM885 292h1v20h-1zM882 292h6v1h-6zM882 305h6v1h-6zM882 292h1v14h-1zM887 292h1v14h-1zM892 275h1v19h-1zM889 278h6v1h-6zM889 289h6v1h-6zM889 278h1v12h-1zM894 278h1v12h-1zM906 270h1v12h-1zM903 275h6v1h-6zM913 261h1v16h-1zM910 262h6v1h-6zM910 273h6v1h-6zM910 262h1v12h-1zM915 262h1v12h-1zM920 237h1v21h-1zM917 240h6v1h-6zM917 257h6v1h-6zM917 240h1v18h-1zM922 240h1v18h-1zM927 232h1v17h-1zM924 240h6v1h-6zM924 242h6v1h-6zM924 240h1v3h-1zM929 240h1v3h-1zM934 236h1v12h-1zM931 236h6v1h-6zM931 243h6v1h-6zM931 236h1v8h-1zM936 236h1v8h-1zM948 230h1v26h-1zM945 253h6v1h-6zM962 257h1v9h-1zM959 262h6v2h-6zM976 243h1v24h-1zM973 243h6v1h-6zM973 263h6v1h-6zM973 243h1v21h-1zM978 243h1v21h-1zM983 231h1v11h-1zM980 236h6v1h-6zM980 241h6v1h-6zM980 236h1v6h-1zM985 236h1v6h-1zM997 270h1v17h-1zM994 274h6v1h-6zM994 283h6v1h-6zM994 274h1v10h-1zM999 274h1v10h-1zM1004 243h1v30h-1zM1001 245h6v1h-6zM1001 270h6v1h-6zM1001 245h1v26h-1zM1006 245h1v26h-1zM1011 240h1v11h-1zM1008 242h6v1h-6zM1008 244h6v1h-6zM1008 242h1v3h-1zM1013 242h1v3h-1zM1025 234h1v12h-1zM1022 234h6v1h-6zM1022 239h6v1h-6zM1022 234h1v6h-1zM1027 234h1v6h-1z" fill="#ff0000"/>
<path d="M92 485h4v1h-4zM99 482h4v1h-4zM141 480h4v2h-4zM155 475h4v2h-4zM162 471h4v1h-4zM169 461h4v5h-4zM190 457h4v1h-4zM204 453h4v3h-4zM239 453h4v1h-4zM267 452h4v1h-4zM337 454h4v1h-4zM344 450h4v1h-4zM351 444h4v2h-4zM358 440h4v1h-4zM365 437h4v1h-4zM372 433h4v1h-4zM400 433h4v1h-4zM435 433h4v1h-4zM449 436h4v2h-4zM456 431h4v4h-4zM526 424h4v1h-4zM589 431h4v5h-4zM596 424h4v4h-4zM603 421h4v2h-4zM610 417h4v2h-4zM652 406h4v3h-4zM666 403h4v3h-4zM715 403h4v3h-4zM722 395h4v3h-4zM729 389h4v3h-4zM736 382h4v2h-4zM743 377h4v1h-4zM750 366h4v6h-4zM764 351h4v15h-4zM778 326h4v19h-4zM792 303h4v18h-4zM806 318h4v13h-4zM827 316h4v3h-4zM834 303h4v10h-4zM841 296h4v2h-4zM855 287h4v7h-4zM883 293h4v12h-4zM890 279h4v10h-4zM911 263h4v10h-4zM918 241h4v16h-4zM925 241h4v1h-4zM932 237h4v6h-4zM974 244h4v19h-4zM981 237h4v4h-4zM995 275h4v8h-4zM1002 246h4v24h-4zM1009 243h4v1h-4zM1023 235h4v4h-4z" fill="#fff"/>
<path d="M653 391h5v1h-5zM1085 161h7v1h-7zM1118 161h4v1h-4zM73 459h81v1h-81zM949 235h2v1h-2zM588 400h7v1h-7zM681 385h5v1h-5zM224 449h14v1h-14zM429 420h5v1h-5zM1080 162h5v1h-5zM1122 162h3v1h-3zM1059 169h3v1h-3zM1138 169h2v1h-2zM539 403h14v1h-14zM196 452h7v1h-7zM322 439h7v1h-7zM511 406h7v1h-7zM953 232h2v1h-2zM390 428h4v1h-4zM1027 181h4v1h-4zM1202 181h4v1h-4zM355 435h4v1h-4zM1019 186h2v1h-2zM1218 186h5v1h-5zM574 401h14v1h-14zM637 394h7v1h-7zM184 454h5v1h-5zM483 410h7v1h-7zM826 322h2v1h-2zM1043 175h2v1h-2zM1148 175h2v1h-2zM252 446h14v1h-14zM932 249h2v1h-2zM1099 159h7v1h-7zM273 444h14v1h-14zM394 427h5v1h-5zM693 383h7v1h-7zM245 447h7v1h-7zM359 434h5v1h-5zM1041 176h2v1h-2zM1150 176h26v1h-26zM1066 167h3v1h-3zM1134 167h2v1h-2zM308 440h14v1h-14zM415 423h5v1h-5zM154 458h7v1h-7zM728 377h7v1h-7zM841 314h2v1h-2zM876 290h2v1h-2zM238 448h7v1h-7zM490 409h7v1h-7zM832 319h2v1h-2zM376 431h4v1h-4zM553 402h21v1h-21zM911 266h2v1h-2zM203 451h14v1h-14zM595 399h7v1h-7zM1048 173h2v1h-2zM1144 173h2v1h-2zM518 405h14v1h-14zM649 392h4v1h-4zM767 366h2v1h-2zM301 441h7v1h-7zM888 282h2v1h-2zM907 269h2v1h-2zM723 378h5v1h-5zM1073 164h3v1h-3zM1127 164h2v1h-2zM1036 178h2v1h-2zM1183 178h7v1h-7zM1031 180h3v1h-3zM1197 180h5v1h-5zM663 389h4v1h-4zM189 453h7v1h-7zM1076 163h4v1h-4zM1125 163h2v1h-2zM763 368h2v1h-2zM287 443h7v1h-7zM399 426h7v1h-7zM991 204h2v1h-2zM385 429h5v1h-5zM455 415h5v1h-5zM817 326h2v1h-2zM161 457h14v1h-14zM958 229h2v1h-2zM497 408h7v1h-7zM266 445h7v1h-7zM1023 183h2v1h-2zM1209 183h2v1h-2zM476 411h7v1h-7zM602 398h14v1h-14zM747 374h4v1h-4zM1016 188h2v1h-2zM1227 188h3v1h-3zM450 416h5v1h-5zM813 328h2v1h-2zM329 438h14v1h-14zM1007 193h2v1h-2zM821 324h3v1h-3zM411 424h4v1h-4zM464 413h5v1h-5zM677 386h4v1h-4zM217 450h7v1h-7zM343 437h7v1h-7zM644 393h5v1h-5zM837 316h2v1h-2zM1012 190h2v1h-2zM1234 190h2v1h-2zM1034 179h2v1h-2zM1190 179h7v1h-7zM828 321h2v1h-2zM1213 185h5v1h-5zM434 419h7v1h-7zM630 395h7v1h-7zM735 376h7v1h-7zM865 298h2v1h-2zM1092 160h7v1h-7zM1106 160h12v1h-12zM1025 182h2v1h-2zM1206 182h3v1h-3zM686 384h7v1h-7zM758 370h3v1h-3zM1050 172h2v1h-2zM1142 172h2v1h-2zM469 412h7v1h-7zM1038 177h3v1h-3zM1176 177h7v1h-7zM977 215h2v1h-2zM350 436h5v1h-5zM294 442h7v1h-7zM774 362h2v1h-2zM1000 198h2v1h-2zM1045 174h3v1h-3zM1146 174h2v1h-2zM981 212h2v1h-2zM809 330h2v1h-2zM460 414h4v1h-4zM425 421h4v1h-4zM672 387h5v1h-5zM532 404h7v1h-7zM742 375h5v1h-5zM1071 165h2v1h-2zM1129 165h3v1h-3zM714 380h5v1h-5zM180 455h4v1h-4zM967 223h2v1h-2zM824 323h2v1h-2zM623 396h7v1h-7zM944 239h2v1h-2zM1062 168h4v1h-4zM1136 168h2v1h-2zM1014 189h2v1h-2zM1230 189h4v1h-4zM446 417h4v1h-4zM658 390h5v1h-5zM371 432h5v1h-5zM937 245h2v1h-2zM364 433h7v1h-7zM778 359h2v1h-2zM420 422h5v1h-5zM667 388h5v1h-5zM761 369h2v1h-2zM380 430h5v1h-5zM707 381h7v1h-7zM851 308h2v1h-2zM883 286h2v1h-2zM175 456h5v1h-5zM1055 170h4v1h-4zM616 397h7v1h-7zM441 418h5v1h-5zM1223 187h4v1h-4zM406 425h5v1h-5zM956 230h2v1h-2zM986 208h2v1h-2zM751 373h3v1h-3zM893 278h2v1h-2zM700 382h7v1h-7zM1069 166h2v1h-2zM1132 166h2v1h-2zM897 275h2v1h-2zM719 379h4v1h-4zM855 305h2v1h-2zM848 310h2v1h-2zM504 407h7v1h-7zM879 288h2v1h-2zM839 315h2v1h-2zM1211 184h2v1h-2zM1005 194h2v1h-2zM972 219h2v1h-2zM995 202h2v1h-2zM1052 171h3v1h-3zM804 334h2v1h-2zM928 252h2v1h-2zM844 312h2v1h-2zM872 293h2v1h-2zM904 271h2v1h-2zM754 372h2v1h-2zM963 226h2v1h-2zM869 295h2v1h-2zM900 273h2v1h-2zM846 311h2v1h-2zM881 287h2v1h-2zM858 303h2v1h-2zM916 262h2v1h-2zM862 300h2v1h-2zM765 367h2v1h-2zM815 327h2v1h-2zM819 325h2v1h-2zM923 256h2v1h-2zM834 318h2v1h-2zM993 203h2v1h-2zM811 329h2v1h-2zM960 228h2v1h-2zM756 371h2v1h-2zM830 320h2v1h-2zM771 364h2v1h-2zM902 272h2v1h-2zM769 365h2v1h-2zM1009 192h2v1h-2zM808 331h1v1h-1zM939 244h1v1h-1zM962 227h1v1h-1zM966 224h1v1h-1zM792 346h1v1h-1zM861 301h1v1h-1zM780 358h1v1h-1zM892 279h1v1h-1zM802 336h1v1h-1zM970 221h1v1h-1zM799 339h1v1h-1zM943 240h1v1h-1zM974 218h1v1h-1zM926 254h1v1h-1zM915 263h1v1h-1zM1021 185h1v1h-1zM930 251h1v1h-1zM919 260h1v1h-1zM787 351h1v1h-1zM896 276h1v1h-1zM806 333h1v1h-1zM1004 195h1v1h-1zM934 248h1v1h-1zM890 281h1v1h-1zM867 297h1v1h-1zM782 356h1v1h-1zM871 294h1v1h-1zM1140 170h1v1h-1zM983 211h1v1h-1zM1018 187h1v1h-1zM794 344h1v1h-1zM906 270h1v1h-1zM875 291h1v1h-1zM921 258h1v1h-1zM910 267h1v1h-1zM836 317h1v1h-1zM1022 184h1v1h-1zM801 337h1v1h-1zM1141 171h1v1h-1zM976 216h1v1h-1zM925 255h1v1h-1zM789 349h1v1h-1zM850 309h1v1h-1zM885 285h1v1h-1zM854 306h1v1h-1zM947 237h1v1h-1zM936 246h1v1h-1zM796 342h1v1h-1zM940 243h1v1h-1zM784 354h1v1h-1zM773 363h1v1h-1zM777 360h1v1h-1zM985 209h1v1h-1zM951 234h1v1h-1zM997 201h1v1h-1zM989 206h1v1h-1zM803 335h1v1h-1zM955 231h1v1h-1zM807 332h1v1h-1zM791 347h1v1h-1zM920 259h1v1h-1zM927 253h1v1h-1zM942 241h1v1h-1zM931 250h1v1h-1zM914 264h1v1h-1zM860 302h1v1h-1zM891 280h1v1h-1zM786 352h1v1h-1zM864 299h1v1h-1zM895 277h1v1h-1zM853 307h1v1h-1zM899 274h1v1h-1zM965 225h1v1h-1zM999 199h1v1h-1zM980 213h1v1h-1zM969 222h1v1h-1zM798 340h1v1h-1zM946 238h1v1h-1zM868 296h1v1h-1zM1003 196h1v1h-1zM984 210h1v1h-1zM1011 191h1v1h-1zM887 283h1v1h-1zM988 207h1v1h-1zM918 261h1v1h-1zM793 345h1v1h-1zM922 257h1v1h-1zM790 348h1v1h-1zM874 292h1v1h-1zM909 268h1v1h-1zM781 357h1v1h-1zM886 284h1v1h-1zM878 289h1v1h-1zM971 220h1v1h-1zM800 338h1v1h-1zM975 217h1v1h-1zM941 242h1v1h-1zM913 265h1v1h-1zM788 350h1v1h-1zM843 313h1v1h-1zM948 236h1v1h-1zM979 214h1v1h-1zM797 341h1v1h-1zM952 233h1v1h-1zM935 247h1v1h-1zM795 343h1v1h-1zM1002 197h1v1h-1zM785 353h1v1h-1zM783 355h1v1h-1zM857 304h1v1h-1zM998 200h1v1h-1zM990 205h1v1h-1zM776 361h1v1h-1z" fill="#ff0000"/>
<path d="M105 522h14v1h-14zM287 512h14v1h-14zM189 518h14v1h-14zM231 518h14v1h-14zM378 505h7v1h-7zM546 489h14v1h-14zM791 489h2v1h-2zM936 489h4v1h-4zM945 489h5v1h-5zM483 496h7v1h-7zM803 496h4v1h-4zM840 496h35v1h-35zM901 496h4v1h-4zM266 515h7v1h-7zM700 482h7v1h-7zM714 482h14v1h-14zM733 482h4v1h-4zM772 482h3v1h-3zM1010 482h5v1h-5zM630 485h7v1h-7zM644 485h7v1h-7zM672 485h7v1h-7zM782 485h2v1h-2zM961 485h5v1h-5zM971 485h4v1h-4zM978 485h4v1h-4zM987 485h19v1h-19zM1152 370h2v1h-2zM182 519h7v1h-7zM203 519h28v1h-28zM497 494h7v1h-7zM799 494h2v1h-2zM910 494h12v1h-12zM1168 361h2v1h-2zM574 487h14v1h-14zM609 487h14v1h-14zM786 487h3v1h-3zM954 487h3v1h-3zM478 497h5v1h-5zM807 497h33v1h-33zM875 497h26v1h-26zM392 503h35v1h-35zM539 490h7v1h-7zM793 490h2v1h-2zM933 490h3v1h-3zM623 486h7v1h-7zM651 486h21v1h-21zM784 486h2v1h-2zM957 486h4v1h-4zM975 486h3v1h-3zM742 480h7v1h-7zM754 480h4v1h-4zM763 480h5v1h-5zM1020 480h4v1h-4zM119 521h14v1h-14zM140 521h21v1h-21zM168 521h7v1h-7zM371 506h7v1h-7zM245 517h14v1h-14zM385 504h7v1h-7zM525 491h14v1h-14zM795 491h2v1h-2zM929 491h4v1h-4zM560 488h14v1h-14zM588 488h21v1h-21zM789 488h2v1h-2zM940 488h5v1h-5zM950 488h4v1h-4zM707 481h7v1h-7zM737 481h5v1h-5zM749 481h5v1h-5zM768 481h4v1h-4zM1015 481h5v1h-5zM280 513h7v1h-7zM315 510h14v1h-14zM1202 339h2v1h-2zM427 502h7v1h-7zM357 508h7v1h-7zM490 495h7v1h-7zM801 495h2v1h-2zM905 495h5v1h-5zM511 492h14v1h-14zM926 492h3v1h-3zM1186 349h2v1h-2zM1030 475h2v1h-2zM1170 360h2v1h-2zM1217 327h2v1h-2zM637 484h7v1h-7zM679 484h14v1h-14zM779 484h3v1h-3zM966 484h5v1h-5zM982 484h5v1h-5zM1006 484h2v1h-2zM1042 467h2v1h-2zM693 483h7v1h-7zM728 483h5v1h-5zM775 483h4v1h-4zM1008 483h2v1h-2zM1077 443h2v1h-2zM758 479h5v1h-5zM1024 479h2v1h-2zM133 520h7v1h-7zM161 520h7v1h-7zM175 520h7v1h-7zM1166 362h2v1h-2zM259 516h7v1h-7zM77 523h28v1h-28zM73 524h4v1h-4zM434 501h28v1h-28zM301 511h14v1h-14zM1026 478h2v1h-2zM273 514h7v1h-7zM504 493h7v1h-7zM922 493h4v1h-4zM329 509h28v1h-28zM1112 417h2v1h-2zM474 498h4v1h-4zM1163 364h2v1h-2zM1154 369h2v1h-2zM1229 318h2v1h-2zM1044 466h2v1h-2zM1079 442h2v1h-2zM1091 434h2v1h-2zM1192 346h2v1h-2zM364 507h7v1h-7zM1204 338h2v1h-2zM1096 431h2v1h-2zM1159 366h2v1h-2zM1040 468h2v1h-2zM1075 444h2v1h-2zM1033 473h2v1h-2zM1068 449h2v1h-2zM1037 470h2v1h-2zM1188 348h2v1h-2zM1072 446h2v1h-2zM1100 428h2v1h-2zM469 499h5v1h-5zM1180 353h2v1h-2zM1200 340h2v1h-2zM1226 320h2v1h-2zM462 500h7v1h-7zM1173 358h2v1h-2zM1184 350h2v1h-2zM1177 355h2v1h-2zM1093 433h2v1h-2zM1206 337h2v1h-2zM1156 368h2v1h-2zM1161 365h2v1h-2zM1054 459h2v1h-2zM1089 435h2v1h-2zM1047 464h2v1h-2zM1082 440h2v1h-2zM1051 461h2v1h-2zM1058 456h2v1h-2zM1086 437h2v1h-2zM1233 315h2v1h-2zM1222 323h2v1h-2zM1196 343h2v1h-2zM1061 454h2v1h-2zM1065 451h2v1h-2zM1190 347h2v1h-2zM1124 406h1v1h-1zM1121 409h1v1h-1zM797 492h1v1h-1zM1105 424h1v1h-1zM1074 445h1v1h-1zM1035 472h1v1h-1zM1175 357h1v1h-1zM1195 344h1v1h-1zM1179 354h1v1h-1zM1127 402h1v1h-1zM1140 386h1v2h-1zM1143 381h1v2h-1zM798 493h1v1h-1zM1221 324h1v1h-1zM1225 321h1v1h-1zM1116 414h1v1h-1zM1103 426h1v1h-1zM1212 332h1v1h-1zM1049 463h1v1h-1zM1084 439h1v1h-1zM1119 411h1v1h-1zM1139 388h1v1h-1zM1151 371h1v1h-1zM1064 452h1v1h-1zM1131 398h1v1h-1zM1088 436h1v1h-1zM1146 377h1v2h-1zM1053 460h1v1h-1zM1123 407h1v1h-1zM1102 427h1v1h-1zM1114 416h1v1h-1zM1107 422h1v1h-1zM1216 328h1v1h-1zM1231 317h1v1h-1zM1126 403h1v2h-1zM1098 430h1v1h-1zM1142 383h1v1h-1zM1149 373h1v2h-1zM1235 314h1v1h-1zM1118 412h1v1h-1zM1138 389h1v2h-1zM1039 469h1v1h-1zM1133 395h1v2h-1zM1145 379h1v1h-1zM1028 477h1v1h-1zM1063 453h1v1h-1zM1134 394h1v1h-1zM1125 405h1v1h-1zM1183 351h1v1h-1zM1109 420h1v1h-1zM1136 392h1v1h-1zM1199 341h1v1h-1zM1148 375h1v1h-1zM1067 450h1v1h-1zM1211 333h1v1h-1zM1172 359h1v1h-1zM1120 410h1v1h-1zM1104 425h1v1h-1zM1128 401h1v1h-1zM1208 336h1v1h-1zM1046 465h1v1h-1zM1057 457h1v1h-1zM1081 441h1v1h-1zM1213 331h1v1h-1zM1050 462h1v1h-1zM1085 438h1v1h-1zM1194 345h1v1h-1zM1108 421h1v1h-1zM1165 363h1v1h-1zM1111 418h1v1h-1zM1224 322h1v1h-1zM1115 415h1v1h-1zM1135 393h1v1h-1zM1158 367h1v1h-1zM1147 376h1v1h-1zM1182 352h1v1h-1zM1095 432h1v1h-1zM1130 399h1v1h-1zM1099 429h1v1h-1zM1209 335h1v1h-1zM1141 384h1v2h-1zM1150 372h1v1h-1zM1228 319h1v1h-1zM1122 408h1v1h-1zM1232 316h1v1h-1zM1071 447h1v1h-1zM1032 474h1v1h-1zM1106 423h1v1h-1zM1056 458h1v1h-1zM1036 471h1v1h-1zM1176 356h1v1h-1zM1117 413h1v1h-1zM1137 391h1v1h-1zM1060 455h1v1h-1zM1215 329h1v1h-1zM1029 476h1v1h-1zM1219 326h1v1h-1zM1110 419h1v1h-1zM1129 400h1v1h-1zM1214 330h1v1h-1zM1132 397h1v1h-1zM1198 342h1v1h-1zM1144 380h1v1h-1zM1210 334h1v1h-1zM1070 448h1v1h-1zM1220 325h1v1h-1z" fill="#ff0000"/>
<path d="M245 461h7v1h-7zM553 419h21v1h-21zM880 329h2v1h-2zM688 402h19v1h-19zM425 437h4v1h-4zM1099 212h7v1h-7zM1134 212h5v1h-5zM1169 212h35v1h-35zM653 409h5v1h-5zM168 469h14v1h-14zM821 359h3v1h-3zM991 259h2v1h-2zM1057 227h2v1h-2zM231 462h14v1h-14zM1106 211h14v1h-14zM1127 211h7v1h-7zM98 471h63v1h-63zM378 445h7v1h-7zM467 430h4v1h-4zM744 395h3v1h-3zM830 355h2v1h-2zM343 452h5v1h-5zM714 400h7v1h-7zM876 331h2v1h-2zM301 455h14v1h-14zM574 418h14v1h-14zM420 438h5v1h-5zM504 424h14v1h-14zM658 408h7v1h-7zM1048 231h2v1h-2zM1052 229h3v1h-3zM1092 214h2v1h-2zM1143 214h5v1h-5zM1155 214h7v1h-7zM1218 214h14v1h-14zM455 432h7v1h-7zM189 467h14v1h-14zM315 454h14v1h-14zM1018 245h2v1h-2zM348 451h4v1h-4zM434 435h7v1h-7zM840 350h2v1h-2zM161 470h7v1h-7zM275 457h12v1h-12zM252 460h14v1h-14zM476 428h5v1h-5zM890 324h2v1h-2zM485 426h12v1h-12zM914 309h2v1h-2zM1094 213h5v1h-5zM1139 213h4v1h-4zM1162 213h7v1h-7zM1204 213h14v1h-14zM810 363h2v1h-2zM385 444h7v1h-7zM754 392h4v1h-4zM960 280h2v1h-2zM895 321h2v1h-2zM951 285h2v1h-2zM588 417h14v1h-14zM210 465h7v1h-7zM539 420h14v1h-14zM684 403h4v1h-4zM1038 235h3v1h-3zM462 431h5v1h-5zM956 282h2v1h-2zM984 264h2v1h-2zM392 443h5v1h-5zM858 340h2v1h-2zM73 472h25v1h-25zM329 453h14v1h-14zM413 439h7v1h-7zM217 464h7v1h-7zM602 416h7v1h-7zM525 422h7v1h-7zM761 390h4v1h-4zM988 261h2v1h-2zM1090 215h2v1h-2zM1148 215h7v1h-7zM1232 215h4v1h-4zM497 425h7v1h-7zM637 412h7v1h-7zM872 333h2v1h-2zM448 433h7v1h-7zM670 406h4v1h-4zM182 468h7v1h-7zM271 458h4v1h-4zM616 414h14v1h-14zM721 399h7v1h-7zM357 449h7v1h-7zM364 448h5v1h-5zM1080 218h3v1h-3zM1014 247h2v1h-2zM832 354h2v1h-2zM878 330h2v1h-2zM751 393h3v1h-3zM886 326h2v1h-2zM609 415h7v1h-7zM707 401h7v1h-7zM224 463h7v1h-7zM679 404h5v1h-5zM828 356h2v1h-2zM644 411h5v1h-5zM774 385h2v1h-2zM806 365h2v1h-2zM1064 224h2v1h-2zM836 352h2v1h-2zM904 316h2v1h-2zM1087 216h3v1h-3zM939 292h2v1h-2zM406 440h7v1h-7zM916 308h2v1h-2zM728 398h7v1h-7zM649 410h4v1h-4zM471 429h5v1h-5zM855 342h2v1h-2zM944 289h2v1h-2zM441 434h7v1h-7zM846 347h2v1h-2zM928 300h2v1h-2zM921 305h2v1h-2zM1069 222h4v1h-4zM665 407h5v1h-5zM287 456h14v1h-14zM997 256h2v1h-2zM932 297h2v1h-2zM817 360h4v1h-4zM981 266h2v1h-2zM740 396h4v1h-4zM429 436h5v1h-5zM373 446h5v1h-5zM993 258h2v1h-2zM1076 220h2v1h-2zM970 274h2v1h-2zM874 332h2v1h-2zM674 405h5v1h-5zM1045 232h3v1h-3zM518 423h7v1h-7zM974 271h2v1h-2zM824 358h2v1h-2zM1016 246h2v1h-2zM770 387h2v1h-2zM203 466h7v1h-7zM1059 226h3v1h-3zM900 318h2v1h-2zM1012 248h2v1h-2zM1055 228h2v1h-2zM808 364h2v1h-2zM851 344h2v1h-2zM352 450h5v1h-5zM799 369h2v1h-2zM842 349h2v1h-2zM897 320h2v1h-2zM1120 210h7v1h-7zM369 447h4v1h-4zM812 362h2v1h-2zM758 391h3v1h-3zM630 413h7v1h-7zM967 276h2v1h-2zM870 334h2v1h-2zM1041 234h2v1h-2zM958 281h2v1h-2zM532 421h7v1h-7zM765 389h3v1h-3zM963 278h2v1h-2zM866 336h2v1h-2zM747 394h4v1h-4zM888 325h2v1h-2zM1009 250h2v1h-2zM804 366h2v1h-2zM893 322h2v1h-2zM838 351h2v1h-2zM884 327h2v1h-2zM266 459h5v1h-5zM735 397h5v1h-5zM1036 236h2v1h-2zM788 377h2v1h-2zM1066 223h3v1h-3zM1028 240h2v1h-2zM1032 238h2v1h-2zM1062 225h2v1h-2zM814 361h3v1h-3zM946 288h2v1h-2zM1073 221h3v1h-3zM1078 219h2v1h-2zM862 338h2v1h-2zM853 343h2v1h-2zM481 427h4v1h-4zM1005 252h2v1h-2zM397 442h4v1h-4zM826 357h2v1h-2zM772 386h2v1h-2zM834 353h2v1h-2zM1083 217h4v1h-4zM1001 254h2v1h-2zM785 379h2v1h-2zM776 384h2v1h-2zM911 311h2v1h-2zM1024 242h2v1h-2zM907 314h2v1h-2zM942 290h2v1h-2zM935 295h2v1h-2zM1034 237h2v1h-2zM1043 233h2v1h-2zM768 388h2v1h-2zM882 328h2v1h-2zM802 367h2v1h-2zM778 383h2v1h-2zM1030 239h2v1h-2zM783 380h2v1h-2zM401 441h5v1h-5zM868 335h2v1h-2zM953 284h2v1h-2zM965 277h2v1h-2zM795 372h2v1h-2zM977 269h2v1h-2zM864 337h2v1h-2zM949 286h2v1h-2zM1003 253h2v1h-2zM1007 251h2v1h-2zM1050 230h2v1h-2zM999 255h2v1h-2zM1026 241h2v1h-2zM860 339h2v1h-2zM925 302h2v1h-2zM918 307h2v1h-2zM995 257h2v1h-2zM1022 243h2v1h-2zM792 374h2v1h-2zM902 317h2v1h-2zM848 346h2v1h-2zM781 381h2v1h-2zM844 348h2v1h-2zM1020 244h2v1h-2zM980 267h1v1h-1zM794 373h1v1h-1zM798 370h1v1h-1zM948 287h1v1h-1zM909 313h1v1h-1zM913 310h1v1h-1zM986 263h1v1h-1zM990 260h1v1h-1zM979 268h1v1h-1zM923 304h1v1h-1zM955 283h1v1h-1zM927 301h1v1h-1zM931 298h1v1h-1zM969 275h1v1h-1zM850 345h1v1h-1zM973 272h1v1h-1zM1011 249h1v1h-1zM787 378h1v1h-1zM791 375h1v1h-1zM937 294h1v1h-1zM941 291h1v1h-1zM983 265h1v1h-1zM987 262h1v1h-1zM906 315h1v1h-1zM910 312h1v1h-1zM972 273h1v1h-1zM797 371h1v1h-1zM801 368h1v1h-1zM920 306h1v1h-1zM790 376h1v1h-1zM924 303h1v1h-1zM892 323h1v1h-1zM962 279h1v1h-1zM930 299h1v1h-1zM857 341h1v1h-1zM780 382h1v1h-1zM934 296h1v1h-1zM938 293h1v1h-1zM899 319h1v1h-1zM976 270h1v1h-1z" fill="#0000ff"/>
<path d="M749 450h7v1h-7zM791 450h7v1h-7zM821 450h5v1h-5zM987 407h14v1h-14zM1006 405h2v1h-2zM574 464h21v1h-21zM1169 310h2v1h-2zM1068 372h2v1h-2zM1015 401h2v1h-2zM434 478h14v1h-14zM560 465h14v1h-14zM854 443h5v1h-5zM245 497h14v1h-14zM385 484h14v1h-14zM497 471h7v1h-7zM280 494h7v1h-7zM518 468h14v1h-14zM1214 290h2v1h-2zM735 452h7v1h-7zM803 452h4v1h-4zM812 452h5v1h-5zM154 503h26v1h-26zM301 492h14v1h-14zM721 453h14v1h-14zM807 453h5v1h-5zM1223 286h2v1h-2zM266 495h14v1h-14zM406 482h7v1h-7zM119 504h35v1h-35zM238 498h7v1h-7zM926 426h3v1h-3zM756 449h35v1h-35zM826 449h5v1h-5zM1183 303h2v1h-2zM224 499h14v1h-14zM742 451h7v1h-7zM798 451h5v1h-5zM817 451h4v1h-4zM483 473h7v1h-7zM882 438h7v1h-7zM947 418h3v1h-3zM539 466h21v1h-21zM180 502h4v1h-4zM700 454h21v1h-21zM957 415h4v1h-4zM1020 399h4v1h-4zM1079 366h2v1h-2zM1149 319h2v1h-2zM1218 288h2v1h-2zM1131 333h2v1h-2zM623 461h7v1h-7zM1199 297h3v1h-3zM329 490h7v1h-7zM448 477h14v1h-14zM868 440h7v1h-7zM908 432h4v1h-4zM287 493h14v1h-14zM835 447h5v1h-5zM982 408h5v1h-5zM84 505h35v1h-35zM651 459h21v1h-21zM964 413h4v1h-4zM350 488h14v1h-14zM1188 301h4v1h-4zM609 462h14v1h-14zM1233 281h2v1h-2zM315 491h14v1h-14zM1044 386h2v1h-2zM1128 335h2v1h-2zM336 489h14v1h-14zM462 476h7v1h-7zM595 463h14v1h-14zM915 430h4v1h-4zM490 472h7v1h-7zM672 458h7v1h-7zM184 501h33v1h-33zM1164 312h3v1h-3zM73 506h11v1h-11zM1056 379h2v1h-2zM399 483h7v1h-7zM943 420h2v1h-2zM217 500h7v1h-7zM971 411h4v1h-4zM476 474h7v1h-7zM1210 292h2v1h-2zM875 439h7v1h-7zM532 467h7v1h-7zM1070 371h2v1h-2zM1017 400h3v1h-3zM922 428h2v1h-2zM1179 305h2v1h-2zM469 475h7v1h-7zM1075 368h2v1h-2zM863 441h5v1h-5zM679 457h7v1h-7zM1013 402h2v1h-2zM978 409h4v1h-4zM889 437h7v1h-7zM630 460h21v1h-21zM420 480h7v1h-7zM845 445h4v1h-4zM504 470h7v1h-7zM1229 283h2v1h-2zM954 416h3v1h-3zM1040 388h2v1h-2zM933 423h3v1h-3zM1114 346h2v1h-2zM1160 313h4v1h-4zM413 481h7v1h-7zM849 444h5v1h-5zM364 487h7v1h-7zM1098 356h2v1h-2zM1110 348h2v1h-2zM1140 326h2v1h-2zM831 448h4v1h-4zM1001 406h5v1h-5zM1206 294h2v1h-2zM371 486h7v1h-7zM961 414h3v1h-3zM1024 398h2v1h-2zM1167 311h2v1h-2zM859 442h4v1h-4zM1058 378h2v1h-2zM1175 307h2v1h-2zM1063 375h2v1h-2zM1008 404h2v1h-2zM1185 302h3v1h-3zM1216 289h2v1h-2zM378 485h7v1h-7zM905 433h3v1h-3zM929 425h2v1h-2zM1156 315h2v1h-2zM901 435h2v1h-2zM1094 358h2v1h-2zM259 496h7v1h-7zM1202 296h2v1h-2zM912 431h3v1h-3zM940 421h3v1h-3zM1119 342h2v1h-2zM1054 380h2v1h-2zM1197 298h2v1h-2zM968 412h3v1h-3zM950 417h4v1h-4zM511 469h7v1h-7zM840 446h5v1h-5zM919 429h3v1h-3zM1051 382h2v1h-2zM1181 304h2v1h-2zM1212 291h2v1h-2zM1077 367h2v1h-2zM896 436h5v1h-5zM924 427h2v1h-2zM1152 317h2v1h-2zM1090 360h2v1h-2zM1231 282h2v1h-2zM686 456h7v1h-7zM427 479h7v1h-7zM903 434h2v1h-2zM1096 357h2v1h-2zM1192 300h3v1h-3zM1042 387h2v1h-2zM1026 397h2v1h-2zM1047 384h2v1h-2zM1100 355h2v1h-2zM1177 306h2v1h-2zM1208 293h2v1h-2zM1065 374h2v1h-2zM1010 403h3v1h-3zM975 410h3v1h-3zM1173 308h2v1h-2zM1204 295h2v1h-2zM693 455h7v1h-7zM1086 362h2v1h-2zM1227 284h2v1h-2zM1154 316h2v1h-2zM931 424h2v1h-2zM1135 330h2v1h-2zM1092 359h2v1h-2zM1030 394h2v1h-2zM1158 314h2v1h-2zM936 422h4v1h-4zM1195 299h2v1h-2zM1035 391h2v1h-2zM1061 376h2v1h-2zM1049 383h2v1h-2zM1088 361h2v1h-2zM1084 363h2v1h-2zM1225 285h2v1h-2zM1037 390h2v1h-2zM945 419h2v1h-2zM1171 309h2v1h-2zM1072 370h2v1h-2zM1220 287h3v1h-3zM1033 392h2v1h-2zM1103 353h2v1h-2zM1145 322h2v1h-2zM1107 350h2v1h-2zM1112 347h2v1h-2zM1082 364h2v1h-2zM1124 338h2v1h-2zM1102 354h1v1h-1zM1133 332h1v1h-1zM1032 393h1v1h-1zM1106 351h1v1h-1zM1137 329h1v1h-1zM1118 343h1v1h-1zM1067 373h1v1h-1zM1144 323h1v1h-1zM1148 320h1v1h-1zM1039 389h1v1h-1zM1074 369h1v1h-1zM1139 327h1v1h-1zM1105 352h1v1h-1zM1143 324h1v1h-1zM1053 381h1v1h-1zM1122 340h1v1h-1zM1126 337h1v1h-1zM1029 395h1v1h-1zM1235 280h1v1h-1zM1130 334h1v1h-1zM1134 331h1v1h-1zM1138 328h1v1h-1zM1060 377h1v1h-1zM1117 344h1v1h-1zM1109 349h1v1h-1zM1121 341h1v1h-1zM1028 396h1v1h-1zM1147 321h1v1h-1zM1151 318h1v1h-1zM1046 385h1v1h-1zM1116 345h1v1h-1zM1081 365h1v1h-1zM1142 325h1v1h-1zM1123 339h1v1h-1zM1127 336h1v1h-1z" fill="#0000ff"/>
<path d="M665 428h7v1h-7zM1146 260h4v1h-4zM1031 305h2v1h-2zM112 485h49v1h-49zM394 459h5v1h-5zM497 444h7v1h-7zM644 431h7v1h-7zM73 486h39v1h-39zM817 398h4v1h-4zM996 321h3v1h-3zM721 421h7v1h-7zM322 469h14v1h-14zM448 452h7v1h-7zM1074 284h2v1h-2zM287 472h14v1h-14zM175 483h21v1h-21zM637 432h7v1h-7zM916 358h2v1h-2zM849 387h3v1h-3zM765 415h3v1h-3zM476 448h7v1h-7zM1234 242h2v1h-2zM273 473h14v1h-14zM1190 250h5v1h-5zM924 354h2v1h-2zM1055 293h2v1h-2zM420 456h7v1h-7zM800 404h3v1h-3zM539 439h21v1h-21zM1153 258h4v1h-4zM1211 246h7v1h-7zM238 477h7v1h-7zM364 464h7v1h-7zM824 396h2v1h-2zM616 434h14v1h-14zM1122 265h5v1h-5zM1051 295h2v1h-2zM672 427h7v1h-7zM1094 275h3v1h-3zM934 349h2v1h-2zM973 331h2v1h-2zM399 458h7v1h-7zM504 443h7v1h-7zM1178 252h5v1h-5zM1059 291h3v1h-3zM772 413h3v1h-3zM385 461h5v1h-5zM1008 316h2v1h-2zM1127 264h5v1h-5zM1199 248h5v1h-5zM350 466h7v1h-7zM455 451h7v1h-7zM892 370h2v1h-2zM1104 271h2v1h-2zM196 482h7v1h-7zM1160 256h4v1h-4zM658 429h7v1h-7zM1027 307h2v1h-2zM1066 288h2v1h-2zM1141 261h5v1h-5zM714 422h7v1h-7zM343 467h7v1h-7zM441 453h7v1h-7zM686 425h14v1h-14zM203 481h7v1h-7zM245 476h14v1h-14zM266 474h7v1h-7zM630 433h7v1h-7zM761 416h4v1h-4zM812 400h2v1h-2zM161 484h14v1h-14zM1183 251h7v1h-7zM989 324h3v1h-3zM700 424h7v1h-7zM873 378h4v1h-4zM406 457h14v1h-14zM912 360h2v1h-2zM749 417h12v1h-12zM224 478h14v1h-14zM427 455h7v1h-7zM1085 279h2v1h-2zM1204 247h7v1h-7zM259 475h7v1h-7zM728 420h7v1h-7zM560 438h28v1h-28zM1174 253h4v1h-4zM959 337h2v1h-2zM511 442h14v1h-14zM1047 297h2v1h-2zM210 480h7v1h-7zM735 419h7v1h-7zM930 351h2v1h-2zM462 450h7v1h-7zM308 470h14v1h-14zM651 430h7v1h-7zM845 388h4v1h-4zM968 333h3v1h-3zM1003 318h3v1h-3zM1230 243h4v1h-4zM488 446h4v1h-4zM835 392h3v1h-3zM888 372h2v1h-2zM707 423h7v1h-7zM434 454h7v1h-7zM1062 290h2v1h-2zM884 374h2v1h-2zM357 465h7v1h-7zM525 441h7v1h-7zM852 386h4v1h-4zM1150 259h3v1h-3zM779 411h3v1h-3zM742 418h7v1h-7zM217 479h7v1h-7zM1057 292h2v1h-2zM1101 272h3v1h-3zM595 436h14v1h-14zM940 346h3v1h-3zM985 326h2v1h-2zM1024 308h3v1h-3zM868 380h2v1h-2zM492 445h5v1h-5zM908 362h2v1h-2zM1080 281h3v1h-3zM1169 254h5v1h-5zM814 399h3v1h-3zM301 471h7v1h-7zM904 364h2v1h-2zM786 409h3v1h-3zM1076 283h2v1h-2zM768 414h4v1h-4zM483 447h5v1h-5zM796 405h4v1h-4zM1043 299h2v1h-2zM532 440h7v1h-7zM1225 244h5v1h-5zM926 353h2v1h-2zM826 395h2v1h-2zM922 355h2v1h-2zM1053 294h2v1h-2zM1092 276h2v1h-2zM866 381h2v1h-2zM775 412h4v1h-4zM880 376h2v1h-2zM1010 315h2v1h-2zM803 403h4v1h-4zM1157 257h3v1h-3zM371 463h7v1h-7zM831 393h4v1h-4zM980 328h2v1h-2zM863 382h3v1h-3zM842 389h3v1h-3zM378 462h7v1h-7zM609 435h7v1h-7zM810 401h2v1h-2zM900 366h2v1h-2zM838 391h2v1h-2zM1072 285h2v1h-2zM588 437h7v1h-7zM957 338h2v1h-2zM961 336h3v1h-3zM992 323h2v1h-2zM1090 277h2v1h-2zM821 397h3v1h-3zM918 357h2v1h-2zM1087 278h3v1h-3zM1132 263h4v1h-4zM1006 317h2v1h-2zM1113 268h5v1h-5zM793 406h3v1h-3zM1083 280h2v1h-2zM1049 296h2v1h-2zM469 449h7v1h-7zM975 330h3v1h-3zM882 375h2v1h-2zM679 426h7v1h-7zM938 347h2v1h-2zM390 460h4v1h-4zM336 468h7v1h-7zM861 383h2v1h-2zM1099 273h2v1h-2zM1164 255h5v1h-5zM982 327h3v1h-3zM1068 287h2v1h-2zM910 361h2v1h-2zM856 385h3v1h-3zM782 410h4v1h-4zM953 340h2v1h-2zM1218 245h7v1h-7zM987 325h2v1h-2zM870 379h3v1h-3zM1041 300h2v1h-2zM1108 269h5v1h-5zM914 359h2v1h-2zM949 342h2v1h-2zM1037 302h2v1h-2zM920 356h2v1h-2zM877 377h3v1h-3zM999 320h2v1h-2zM828 394h3v1h-3zM978 329h2v1h-2zM1022 309h2v1h-2zM906 363h2v1h-2zM1018 311h2v1h-2zM902 365h2v1h-2zM1070 286h2v1h-2zM840 390h2v1h-2zM807 402h3v1h-3zM945 344h2v1h-2zM994 322h2v1h-2zM1033 304h2v1h-2zM1136 262h5v1h-5zM791 407h2v1h-2zM964 335h2v1h-2zM1118 267h2v1h-2zM1014 313h2v1h-2zM898 367h2v1h-2zM859 384h2v1h-2zM1020 310h2v1h-2zM955 339h2v1h-2zM1106 270h2v1h-2zM1029 306h2v1h-2zM1039 301h2v1h-2zM1195 249h4v1h-4zM966 334h2v1h-2zM932 350h2v1h-2zM936 348h2v1h-2zM1001 319h2v1h-2zM1097 274h2v1h-2zM894 369h2v1h-2zM1120 266h2v1h-2zM928 352h2v1h-2zM886 373h2v1h-2zM951 341h2v1h-2zM1016 312h2v1h-2zM947 343h2v1h-2zM1035 303h2v1h-2zM1045 298h2v1h-2zM1012 314h2v1h-2zM896 368h2v1h-2zM789 408h2v1h-2zM943 345h2v1h-2zM1064 289h2v1h-2zM1078 282h2v1h-2zM971 332h2v1h-2zM890 371h2v1h-2z" fill="#000000"/>
<line x1="1029" y1="234.5" x2="1238" y2="234.5" stroke="#808080" stroke-dasharray="5 2"/>
<polyline points="1018,230.5 1021,230.5 1037,234.5" fill="none" stroke="#0000ff"/>
<polyline points="95,487 115,482.5" fill="none" stroke="#0000ff"/>
<rect x="1240" y="129" width="2" height="464" fill="#808080"/>
<rect x="0" y="590" width="1244" height="2" fill="#808080"/>
</svg>
<div class="abs" style="left:1038.5px;top:235.5px;font:11.6px/14px 'Liberation Sans',sans-serif;letter-spacing:.42px;color:#2a2aff;white-space:nowrap">3406.7900</div><div class="abs" style="left:115px;top:474.5px;font:11.6px/14px 'Liberation Sans',sans-serif;letter-spacing:.42px;color:#2a2aff;white-space:nowrap">2033.0000</div>
</body></html>
